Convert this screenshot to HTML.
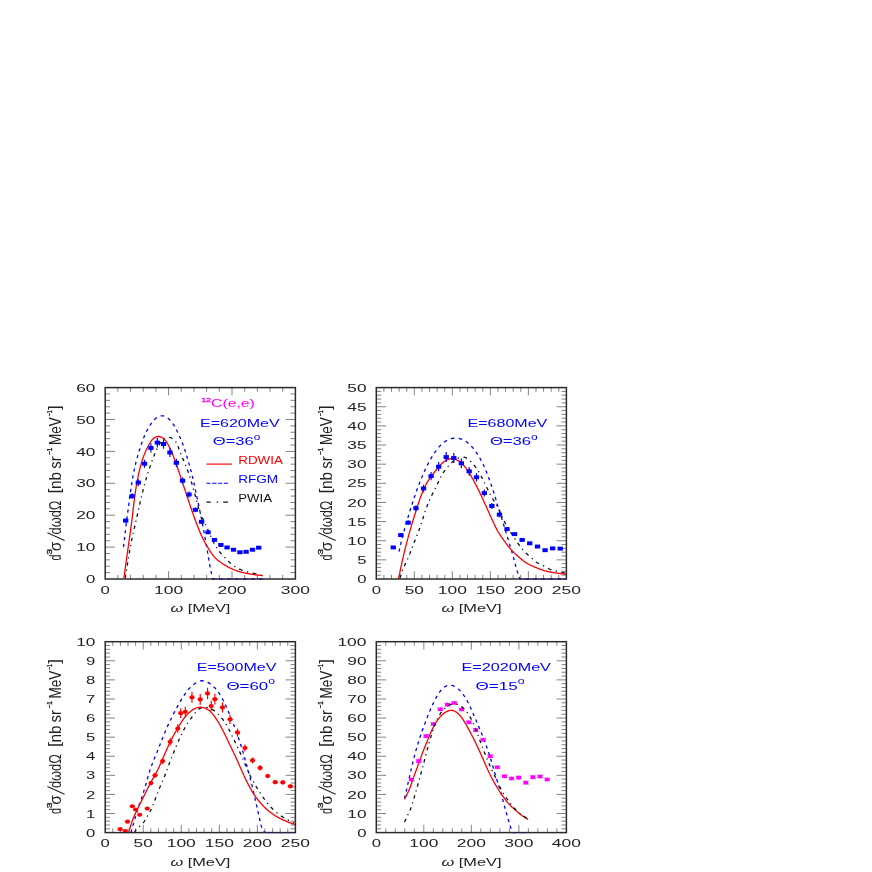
<!DOCTYPE html>
<html lang="en"><head><meta charset="utf-8"><title>12C(e,e) cross sections</title>
<style>html,body{margin:0;padding:0;background:#fff;}body{width:872px;height:872px;overflow:hidden;font-family:"Liberation Sans",sans-serif;}svg{display:block;will-change:transform;}</style>
</head><body>
<svg width="872" height="872" viewBox="0 0 872 872" font-family="'Liberation Sans', sans-serif">
<rect width="872" height="872" fill="#ffffff"/>
<g id="panel1">
<path d="M117.88 579.00 v-4.20 M117.88 387.60 v4.20 M130.56 579.00 v-4.20 M130.56 387.60 v4.20 M143.24 579.00 v-4.20 M143.24 387.60 v4.20 M155.92 579.00 v-4.20 M155.92 387.60 v4.20 M168.60 579.00 v-7.80 M168.60 387.60 v7.80 M181.28 579.00 v-4.20 M181.28 387.60 v4.20 M193.96 579.00 v-4.20 M193.96 387.60 v4.20 M206.64 579.00 v-4.20 M206.64 387.60 v4.20 M219.32 579.00 v-4.20 M219.32 387.60 v4.20 M232.00 579.00 v-7.80 M232.00 387.60 v7.80 M244.68 579.00 v-4.20 M244.68 387.60 v4.20 M257.36 579.00 v-4.20 M257.36 387.60 v4.20 M270.04 579.00 v-4.20 M270.04 387.60 v4.20 M282.72 579.00 v-4.20 M282.72 387.60 v4.20 M105.20 572.62 h4.90 M295.40 572.62 h-4.90 M105.20 566.24 h4.90 M295.40 566.24 h-4.90 M105.20 559.86 h4.90 M295.40 559.86 h-4.90 M105.20 553.48 h4.90 M295.40 553.48 h-4.90 M105.20 547.10 h9.80 M295.40 547.10 h-9.80 M105.20 540.72 h4.90 M295.40 540.72 h-4.90 M105.20 534.34 h4.90 M295.40 534.34 h-4.90 M105.20 527.96 h4.90 M295.40 527.96 h-4.90 M105.20 521.58 h4.90 M295.40 521.58 h-4.90 M105.20 515.20 h9.80 M295.40 515.20 h-9.80 M105.20 508.82 h4.90 M295.40 508.82 h-4.90 M105.20 502.44 h4.90 M295.40 502.44 h-4.90 M105.20 496.06 h4.90 M295.40 496.06 h-4.90 M105.20 489.68 h4.90 M295.40 489.68 h-4.90 M105.20 483.30 h9.80 M295.40 483.30 h-9.80 M105.20 476.92 h4.90 M295.40 476.92 h-4.90 M105.20 470.54 h4.90 M295.40 470.54 h-4.90 M105.20 464.16 h4.90 M295.40 464.16 h-4.90 M105.20 457.78 h4.90 M295.40 457.78 h-4.90 M105.20 451.40 h9.80 M295.40 451.40 h-9.80 M105.20 445.02 h4.90 M295.40 445.02 h-4.90 M105.20 438.64 h4.90 M295.40 438.64 h-4.90 M105.20 432.26 h4.90 M295.40 432.26 h-4.90 M105.20 425.88 h4.90 M295.40 425.88 h-4.90 M105.20 419.50 h9.80 M295.40 419.50 h-9.80 M105.20 413.12 h4.90 M295.40 413.12 h-4.90 M105.20 406.74 h4.90 M295.40 406.74 h-4.90 M105.20 400.36 h4.90 M295.40 400.36 h-4.90 M105.20 393.98 h4.90 M295.40 393.98 h-4.90" stroke="#5a5a5a" stroke-width="0.75" fill="none"/>
<clipPath id="c1"><rect x="105.20" y="386.60" width="191.00" height="193.40"/></clipPath>
<g clip-path="url(#c1)" fill="none" stroke-linecap="butt" stroke-linejoin="round">
<path d="M125.23 577.95 L125.36 577.14 L125.49 576.33 L125.62 575.52 L125.75 574.71 L125.77 574.59 M126.38 570.72 L126.40 570.65 L126.53 569.84 L126.57 569.53 M127.19 565.67 L127.31 564.97 L127.44 564.16 L127.57 563.34 L127.70 562.53 L127.73 562.30 M128.35 558.44 L128.48 557.66 L128.55 557.25 M129.18 553.39 L129.28 552.80 L129.42 551.99 L129.56 551.18 L129.70 550.37 L129.76 550.03 M130.46 546.18 L130.58 545.51 L130.68 544.99 M131.45 541.15 L131.55 540.68 L131.72 539.87 L131.89 539.07 L132.06 538.27 L132.16 537.81 M133.01 533.98 L133.13 533.45 L133.28 532.80 M134.16 528.98 L134.23 528.64 L134.42 527.84 L134.60 527.04 L134.79 526.24 L134.93 525.64 M135.80 521.82 L135.88 521.43 L136.06 520.64 M136.91 516.81 L136.95 516.62 L137.13 515.81 L137.31 515.01 L137.48 514.21 L137.65 513.47 M138.49 509.64 L138.54 509.39 L138.72 508.59 L138.75 508.46 M139.60 504.63 L139.61 504.58 L139.79 503.78 L139.98 502.97 L140.16 502.17 L140.34 501.37 L140.36 501.30 M141.25 497.48 L141.28 497.37 L141.47 496.57 L141.53 496.30 M142.47 492.49 L142.64 491.78 L142.85 490.98 L143.05 490.18 L143.25 489.39 L143.31 489.17 M144.32 485.37 L144.53 484.62 L144.65 484.20 M145.73 480.42 L145.88 479.89 L146.11 479.10 L146.35 478.31 L146.59 477.53 L146.71 477.13 M147.88 473.36 L148.05 472.82 L148.25 472.20 M149.48 468.45 L149.59 468.13 L149.85 467.35 L150.12 466.57 L150.38 465.79 L150.59 465.19 M151.90 461.46 L152.02 461.12 L152.30 460.34 L152.31 460.32 M153.69 456.61 L153.74 456.49 L154.03 455.72 L154.33 454.96 L154.64 454.19 L154.94 453.43 L154.96 453.39 M156.51 449.73 L156.53 449.67 L156.87 448.92 L157.01 448.61 M158.85 445.06 L159.13 444.58 L159.57 443.88 L160.04 443.19 L160.54 442.51 L160.83 442.13 M163.72 439.16 L164.14 438.82 L164.78 438.40 M169.00 437.37 L169.54 437.44 L170.36 437.64 L171.16 437.92 L171.94 438.28 L172.58 438.64 M175.59 441.50 L175.62 441.54 L176.07 442.23 L176.25 442.55 M177.92 446.17 L178.15 446.79 L178.44 447.59 L178.73 448.40 L179.02 449.20 L179.09 449.41 M180.52 453.11 L180.52 453.11 L180.83 453.88 L180.98 454.24 M182.55 457.89 L182.77 458.39 L183.09 459.14 L183.42 459.88 L183.74 460.63 L183.93 461.07 M185.46 464.74 L185.62 465.14 L185.91 465.87 M187.31 469.58 L187.37 469.74 L187.65 470.52 L187.92 471.29 L188.20 472.07 L188.46 472.83 M189.71 476.57 L189.78 476.76 L190.03 477.55 L190.09 477.73 M191.27 481.49 L191.50 482.26 L191.74 483.05 L191.97 483.84 L192.21 484.63 L192.25 484.78 M193.34 488.56 L193.34 488.57 L193.56 489.37 L193.66 489.73 M194.69 493.53 L194.85 494.12 L195.06 494.92 L195.27 495.72 L195.48 496.51 L195.56 496.84 M196.54 500.65 L196.71 501.30 L196.85 501.82 M197.89 505.61 L198.02 506.05 L198.26 506.84 L198.50 507.63 L198.74 508.41 L198.90 508.89 M200.21 512.62 L200.38 513.06 L200.65 513.76 M202.19 517.42 L202.27 517.60 L202.61 518.36 L202.95 519.11 L203.29 519.85 L203.62 520.59 M205.31 524.20 L205.37 524.33 L205.72 525.08 L205.83 525.31 M207.50 528.93 L207.78 529.56 L208.12 530.30 L208.46 531.05 L208.80 531.80 L208.93 532.10 M210.57 535.73 L210.82 536.29 L211.07 536.84 M212.75 540.46 L212.90 540.78 L213.26 541.53 L213.62 542.27 L213.99 543.01 L214.29 543.59 M216.24 547.10 L216.38 547.32 L216.82 548.02 L216.90 548.15 M219.28 551.45 L219.71 551.99 L220.24 552.62 L220.77 553.24 L221.32 553.86 L221.61 554.18 M224.46 557.20 L224.71 557.46 L225.29 558.05 L225.35 558.11 M228.28 561.06 L228.78 561.56 L229.38 562.13 L229.97 562.70 L230.58 563.25 L230.93 563.56 M234.27 566.17 L234.45 566.29 L235.14 566.74 L235.37 566.88 M239.18 568.94 L239.49 569.08 L240.25 569.42 L241.01 569.74 L241.77 570.04 L242.55 570.33 L242.72 570.39 M246.93 571.72 L247.25 571.81 L248.05 572.02 L248.25 572.07 M252.57 573.12 L252.84 573.19 L253.64 573.38 L254.44 573.57 L255.24 573.76 L256.03 573.96 L256.34 574.03 M260.62 575.18 L260.80 575.22 L261.59 575.44 L261.94 575.54" stroke="#111111" stroke-width="1.3" fill="none" clip-path="url(#c1)"/>
<path d="M123.51 546.99 L123.60 546.20 L123.70 545.42 L123.79 544.63 L123.88 543.85 L123.89 543.81 M124.33 540.13 L124.35 539.92 L124.45 539.13 L124.54 538.35 L124.64 537.56 L124.71 536.94 M125.15 533.27 L125.20 532.84 L125.30 532.06 L125.39 531.27 L125.49 530.49 L125.54 530.08 M125.99 526.40 L126.06 525.77 L126.16 524.99 L126.26 524.20 L126.35 523.42 L126.38 523.22 M126.83 519.54 L126.84 519.49 L126.94 518.70 L127.04 517.92 L127.14 517.13 L127.24 516.36 M127.71 512.68 L127.74 512.42 L127.84 511.64 L127.94 510.85 L128.05 510.07 L128.12 509.50 M128.61 505.83 L128.67 505.36 L128.77 504.57 L128.88 503.79 L128.99 503.01 L129.03 502.65 M129.54 498.98 L129.63 498.30 L129.74 497.52 L129.85 496.73 L129.96 495.95 L129.98 495.80 M130.50 492.13 L130.51 492.03 L130.62 491.25 L130.74 490.46 L130.85 489.68 L130.95 488.95 M131.50 485.28 L131.54 484.98 L131.66 484.20 L131.78 483.41 L131.90 482.63 L131.99 482.11 M132.59 478.45 L132.68 477.95 L132.81 477.17 L132.95 476.39 L133.09 475.61 L133.15 475.29 M133.86 471.64 L134.00 470.95 L134.16 470.17 L134.32 469.40 L134.49 468.62 L134.52 468.49 M135.35 464.86 L135.38 464.76 L135.56 463.99 L135.75 463.23 L135.94 462.46 L136.13 461.73 M137.08 458.13 L137.15 457.86 L137.36 457.10 L137.58 456.34 L137.79 455.58 L137.95 455.02 M139.02 451.44 L139.14 451.03 L139.38 450.27 L139.62 449.51 L139.86 448.76 L139.99 448.35 M141.17 444.79 L141.35 444.25 L141.61 443.50 L141.87 442.75 L142.14 442.00 L142.23 441.73 M143.55 438.21 L143.81 437.55 L144.10 436.82 L144.41 436.09 L144.71 435.36 L144.78 435.20 M146.37 431.76 L146.72 431.06 L147.09 430.35 L147.46 429.66 L147.84 428.96 L147.90 428.85 M149.85 425.57 L149.86 425.56 L150.29 424.89 L150.73 424.23 L151.17 423.57 L151.63 422.92 L151.71 422.81 M154.20 419.81 L154.71 419.30 L155.30 418.76 L155.91 418.25 L156.56 417.76 L156.83 417.58 M160.59 415.92 L160.94 415.85 L161.72 415.79 L162.50 415.83 L163.29 415.95 L164.06 416.16 L164.20 416.20 M167.80 418.13 L168.29 418.50 L168.89 419.02 L169.48 419.56 L170.04 420.12 L170.33 420.45 M172.73 423.50 L172.98 423.86 L173.42 424.52 L173.84 425.19 L174.26 425.87 L174.51 426.30 M176.35 429.64 L176.55 430.03 L176.90 430.74 L177.25 431.45 L177.60 432.17 L177.80 432.58 M179.39 436.01 L179.60 436.48 L179.92 437.21 L180.24 437.93 L180.56 438.66 L180.70 439.00 M182.15 442.48 L182.37 443.05 L182.66 443.78 L182.95 444.52 L183.23 445.26 L183.32 445.51 M184.58 449.05 L184.81 449.73 L185.06 450.48 L185.30 451.24 L185.54 451.99 L185.59 452.12 M186.68 455.70 L186.70 455.78 L186.93 456.54 L187.15 457.30 L187.37 458.06 L187.59 458.80 M188.61 462.39 L188.67 462.63 L188.89 463.39 L189.10 464.15 L189.32 464.91 L189.48 465.50 M190.48 469.10 L190.59 469.49 L190.80 470.26 L191.00 471.02 L191.21 471.78 L191.32 472.21 M192.26 475.82 L192.40 476.38 L192.59 477.15 L192.78 477.92 L192.97 478.69 L193.03 478.95 M193.87 482.58 L194.03 483.31 L194.20 484.09 L194.37 484.86 L194.53 485.63 L194.55 485.72 M195.31 489.36 L195.34 489.51 L195.51 490.28 L195.67 491.06 L195.82 491.83 L195.96 492.51 M196.72 496.15 L196.79 496.48 L196.95 497.26 L197.12 498.03 L197.28 498.81 L197.38 499.30 M198.16 502.94 L198.27 503.45 L198.44 504.23 L198.60 505.00 L198.77 505.78 L198.83 506.09 M199.60 509.72 L199.75 510.42 L199.91 511.20 L200.07 511.97 L200.23 512.75 L200.26 512.87 M201.00 516.52 L201.02 516.62 L201.17 517.40 L201.33 518.18 L201.48 518.95 L201.62 519.67 M202.33 523.32 L202.38 523.62 L202.53 524.39 L202.68 525.17 L202.82 525.95 L202.92 526.48 M203.60 530.13 L203.69 530.62 L203.84 531.40 L203.98 532.18 L204.12 532.96 L204.18 533.29 M204.85 536.94 L204.97 537.63 L205.11 538.41 L205.25 539.19 L205.39 539.96 L205.42 540.11 M206.07 543.76 L206.09 543.86 L206.23 544.64 L206.37 545.42 L206.50 546.20 L206.63 546.92 M207.27 550.58 L207.32 550.88 L207.45 551.66 L207.59 552.44 L207.72 553.22 L207.81 553.75 M208.43 557.41 L208.51 557.90 L208.65 558.68 L208.78 559.46 L208.91 560.24 L208.97 560.57 M209.61 564.23 L209.73 564.92 L209.87 565.70 L210.02 566.48 L210.16 567.25 L210.19 567.39 M210.92 571.04 L210.94 571.14 L211.10 571.91 L211.26 572.69 L211.43 573.46 L211.58 574.18 M212.38 577.82 L212.44 578.10 L212.61 578.87 L212.61 579.00 L214.91 579.00 M219.17 579.00 L222.85 579.00 M227.10 579.00 L230.78 579.00 M235.04 579.00 L238.72 579.00 M242.97 579.00 L246.65 579.00 M250.91 579.00 L254.59 579.00 M258.84 579.00 L262.52 579.00" stroke="#0000ff" stroke-width="1.3"/>
<path d="M123.85 578.87 L123.96 578.03 L124.07 577.19 L124.18 576.35 L124.28 575.51 L124.39 574.67 L124.50 573.83 L124.61 572.99 L124.72 572.15 L124.83 571.31 L124.94 570.47 L125.05 569.62 L125.17 568.78 L125.28 567.94 L125.39 567.10 L125.51 566.27 L125.63 565.43 L125.74 564.59 L125.86 563.75 L125.98 562.91 L126.10 562.07 L126.21 561.23 L126.33 560.39 L126.45 559.55 L126.57 558.71 L126.69 557.87 L126.81 557.03 L126.93 556.19 L127.05 555.35 L127.17 554.51 L127.29 553.67 L127.41 552.84 L127.52 552.00 L127.64 551.16 L127.76 550.32 L127.88 549.48 L128.00 548.64 L128.12 547.80 L128.24 546.96 L128.35 546.12 L128.47 545.28 L128.59 544.44 L128.71 543.60 L128.83 542.76 L128.94 541.92 L129.06 541.08 L129.18 540.24 L129.30 539.41 L129.41 538.57 L129.53 537.73 L129.65 536.89 L129.76 536.05 L129.88 535.21 L130.00 534.37 L130.11 533.53 L130.23 532.69 L130.34 531.85 L130.46 531.01 L130.57 530.17 L130.69 529.33 L130.80 528.49 L130.91 527.65 L131.02 526.81 L131.14 525.97 L131.25 525.13 L131.36 524.29 L131.47 523.45 L131.57 522.61 L131.68 521.77 L131.79 520.92 L131.89 520.08 L132.00 519.24 L132.10 518.40 L132.20 517.56 L132.30 516.72 L132.40 515.87 L132.50 515.03 L132.60 514.19 L132.70 513.35 L132.80 512.51 L132.90 511.66 L133.00 510.82 L133.09 509.98 L133.19 509.14 L133.29 508.29 L133.39 507.45 L133.49 506.61 L133.59 505.77 L133.69 504.93 L133.79 504.08 L133.89 503.24 L133.99 502.40 L134.09 501.56 L134.20 500.72 L134.30 499.88 L134.41 499.04 L134.52 498.20 L134.63 497.36 L134.74 496.52 L134.85 495.68 L134.97 494.84 L135.08 494.00 L135.20 493.16 L135.32 492.32 L135.45 491.48 L135.57 490.64 L135.70 489.81 L135.83 488.97 L135.97 488.13 L136.11 487.30 L136.24 486.46 L136.39 485.63 L136.53 484.79 L136.68 483.96 L136.83 483.12 L136.98 482.29 L137.14 481.45 L137.29 480.62 L137.45 479.79 L137.62 478.96 L137.78 478.13 L137.95 477.29 L138.12 476.46 L138.30 475.63 L138.47 474.80 L138.65 473.97 L138.84 473.14 L139.02 472.32 L139.21 471.49 L139.40 470.66 L139.59 469.83 L139.79 469.01 L140.00 468.18 L140.20 467.36 L140.41 466.54 L140.63 465.72 L140.85 464.90 L141.08 464.08 L141.31 463.26 L141.55 462.45 L141.80 461.64 L142.05 460.83 L142.31 460.02 L142.57 459.22 L142.85 458.42 L143.13 457.62 L143.42 456.82 L143.72 456.03 L144.02 455.24 L144.34 454.45 L144.66 453.67 L144.99 452.89 L145.33 452.11 L145.67 451.33 L146.02 450.56 L146.37 449.79 L146.73 449.02 L147.10 448.25 L147.47 447.49 L147.84 446.73 L148.22 445.97 L148.60 445.21 L148.99 444.46 L149.39 443.71 L149.81 442.98 L150.26 442.26 L150.73 441.56 L151.24 440.87 L151.78 440.21 L152.37 439.57 L153.00 438.96 L153.68 438.39 L154.40 437.86 L155.16 437.40 L155.94 437.01 L156.74 436.72 L157.56 436.52 L158.39 436.44 L159.21 436.49 L160.03 436.66 L160.84 436.93 L161.63 437.30 L162.39 437.75 L163.12 438.26 L163.81 438.82 L164.46 439.42 L165.06 440.05 L165.61 440.71 L166.13 441.39 L166.61 442.09 L167.06 442.80 L167.49 443.53 L167.89 444.28 L168.28 445.03 L168.66 445.78 L169.04 446.55 L169.41 447.31 L169.77 448.07 L170.13 448.84 L170.49 449.61 L170.84 450.38 L171.19 451.16 L171.53 451.93 L171.86 452.71 L172.20 453.49 L172.53 454.27 L172.85 455.06 L173.17 455.84 L173.49 456.63 L173.80 457.42 L174.11 458.21 L174.41 459.00 L174.71 459.79 L175.01 460.58 L175.30 461.38 L175.59 462.18 L175.88 462.97 L176.17 463.77 L176.45 464.57 L176.73 465.37 L177.01 466.17 L177.28 466.97 L177.56 467.77 L177.83 468.58 L178.11 469.38 L178.38 470.18 L178.65 470.99 L178.92 471.79 L179.19 472.59 L179.46 473.40 L179.73 474.20 L179.99 475.01 L180.26 475.81 L180.53 476.61 L180.79 477.42 L181.06 478.22 L181.33 479.03 L181.59 479.83 L181.86 480.64 L182.13 481.44 L182.39 482.25 L182.66 483.05 L182.93 483.85 L183.20 484.66 L183.47 485.46 L183.73 486.27 L184.00 487.07 L184.27 487.87 L184.54 488.68 L184.81 489.48 L185.08 490.29 L185.35 491.09 L185.62 491.89 L185.88 492.70 L186.15 493.50 L186.42 494.31 L186.69 495.11 L186.95 495.92 L187.22 496.72 L187.48 497.53 L187.75 498.33 L188.01 499.14 L188.28 499.94 L188.54 500.75 L188.81 501.55 L189.07 502.36 L189.34 503.16 L189.61 503.97 L189.87 504.77 L190.14 505.58 L190.41 506.38 L190.68 507.18 L190.95 507.99 L191.23 508.79 L191.50 509.59 L191.78 510.39 L192.06 511.19 L192.34 511.99 L192.62 512.79 L192.90 513.59 L193.19 514.39 L193.48 515.18 L193.77 515.98 L194.06 516.78 L194.35 517.57 L194.64 518.37 L194.93 519.16 L195.23 519.96 L195.52 520.75 L195.82 521.55 L196.12 522.34 L196.42 523.14 L196.71 523.93 L197.01 524.72 L197.32 525.52 L197.62 526.31 L197.92 527.10 L198.23 527.89 L198.54 528.68 L198.85 529.47 L199.17 530.25 L199.49 531.04 L199.82 531.82 L200.15 532.60 L200.48 533.38 L200.82 534.16 L201.17 534.93 L201.52 535.70 L201.87 536.47 L202.24 537.24 L202.61 538.00 L202.98 538.76 L203.36 539.52 L203.75 540.28 L204.14 541.03 L204.54 541.78 L204.94 542.52 L205.35 543.27 L205.76 544.01 L206.18 544.74 L206.60 545.47 L207.03 546.20 L207.47 546.93 L207.91 547.65 L208.35 548.38 L208.80 549.10 L209.25 549.81 L209.71 550.53 L210.17 551.24 L210.64 551.96 L211.11 552.66 L211.59 553.37 L212.08 554.06 L212.58 554.75 L213.09 555.42 L213.62 556.09 L214.16 556.73 L214.73 557.36 L215.31 557.98 L215.91 558.57 L216.53 559.15 L217.17 559.71 L217.81 560.26 L218.48 560.80 L219.15 561.32 L219.83 561.83 L220.52 562.33 L221.22 562.81 L221.92 563.29 L222.63 563.76 L223.35 564.22 L224.06 564.68 L224.79 565.12 L225.51 565.55 L226.25 565.98 L226.99 566.39 L227.73 566.80 L228.48 567.19 L229.23 567.58 L229.99 567.96 L230.76 568.33 L231.53 568.68 L232.30 569.03 L233.08 569.37 L233.87 569.69 L234.65 570.01 L235.45 570.31 L236.24 570.60 L237.04 570.88 L237.85 571.15 L238.66 571.41 L239.47 571.65 L240.28 571.89 L241.10 572.11 L241.92 572.33 L242.75 572.53 L243.57 572.73 L244.40 572.91 L245.23 573.09 L246.06 573.26 L246.89 573.43 L247.73 573.59 L248.56 573.74 L249.40 573.88 L250.24 574.02 L251.07 574.15 L251.91 574.28 L252.75 574.40 L253.59 574.52 L254.43 574.64 L255.27 574.75 L256.11 574.86 L256.95 574.97 L257.79 575.07 L258.63 575.17 L259.48 575.27 L260.32 575.37 L261.16 575.47 L262.00 575.56 L262.84 575.66" stroke="#ff0000" stroke-width="1.3"/>
</g>
<path d="M125.69 518.57 v4.09" stroke="#0000ff" stroke-width="1.2" fill="none"/>
<rect x="123.04" y="518.66" width="5.3" height="3.9" fill="#0000ff"/>
<path d="M132.11 493.17 v5.80" stroke="#0000ff" stroke-width="1.2" fill="none"/>
<rect x="129.46" y="494.12" width="5.3" height="3.9" fill="#0000ff"/>
<path d="M138.30 479.17 v6.75" stroke="#0000ff" stroke-width="1.2" fill="none"/>
<rect x="135.65" y="480.59" width="5.3" height="3.9" fill="#0000ff"/>
<path d="M144.50 459.70 v8.07" stroke="#0000ff" stroke-width="1.2" fill="none"/>
<rect x="141.85" y="461.78" width="5.3" height="3.9" fill="#0000ff"/>
<path d="M150.92 443.32 v9.18" stroke="#0000ff" stroke-width="1.2" fill="none"/>
<rect x="148.27" y="445.96" width="5.3" height="3.9" fill="#0000ff"/>
<path d="M157.34 437.86 v9.55" stroke="#0000ff" stroke-width="1.2" fill="none"/>
<rect x="154.69" y="440.68" width="5.3" height="3.9" fill="#0000ff"/>
<path d="M163.53 439.28 v9.45" stroke="#0000ff" stroke-width="1.2" fill="none"/>
<rect x="160.88" y="442.06" width="5.3" height="3.9" fill="#0000ff"/>
<path d="M169.95 448.07 v8.86" stroke="#0000ff" stroke-width="1.2" fill="none"/>
<rect x="167.30" y="450.55" width="5.3" height="3.9" fill="#0000ff"/>
<path d="M176.38 458.75 v8.13" stroke="#0000ff" stroke-width="1.2" fill="none"/>
<rect x="173.73" y="460.87" width="5.3" height="3.9" fill="#0000ff"/>
<path d="M182.57 477.27 v6.88" stroke="#0000ff" stroke-width="1.2" fill="none"/>
<rect x="179.92" y="478.76" width="5.3" height="3.9" fill="#0000ff"/>
<path d="M188.99 491.51 v5.92" stroke="#0000ff" stroke-width="1.2" fill="none"/>
<rect x="186.34" y="492.52" width="5.3" height="3.9" fill="#0000ff"/>
<path d="M195.41 507.41 v4.84" stroke="#0000ff" stroke-width="1.2" fill="none"/>
<rect x="192.76" y="507.88" width="5.3" height="3.9" fill="#0000ff"/>
<path d="M201.61 519.76 v4.01" stroke="#0000ff" stroke-width="1.2" fill="none"/>
<rect x="198.96" y="519.81" width="5.3" height="3.9" fill="#0000ff"/>
<path d="M208.03 530.68 v3.27" stroke="#0000ff" stroke-width="1.2" fill="none"/>
<rect x="205.38" y="530.36" width="5.3" height="3.9" fill="#0000ff"/>
<path d="M214.45 538.51 v2.74" stroke="#0000ff" stroke-width="1.2" fill="none"/>
<rect x="211.80" y="537.93" width="5.3" height="3.9" fill="#0000ff"/>
<path d="M220.87 543.73 v2.39" stroke="#0000ff" stroke-width="1.2" fill="none"/>
<rect x="218.22" y="542.98" width="5.3" height="3.9" fill="#0000ff"/>
<path d="M227.06 546.35 v2.21" stroke="#0000ff" stroke-width="1.2" fill="none"/>
<rect x="224.41" y="545.50" width="5.3" height="3.9" fill="#0000ff"/>
<path d="M233.49 548.72 v2.05" stroke="#0000ff" stroke-width="1.2" fill="none"/>
<rect x="230.84" y="547.79" width="5.3" height="3.9" fill="#0000ff"/>
<path d="M239.91 551.33 v1.87" stroke="#0000ff" stroke-width="1.2" fill="none"/>
<rect x="237.26" y="550.32" width="5.3" height="3.9" fill="#0000ff"/>
<path d="M246.10 550.86 v1.90" stroke="#0000ff" stroke-width="1.2" fill="none"/>
<rect x="243.45" y="549.86" width="5.3" height="3.9" fill="#0000ff"/>
<path d="M252.52 548.72 v2.05" stroke="#0000ff" stroke-width="1.2" fill="none"/>
<rect x="249.87" y="547.79" width="5.3" height="3.9" fill="#0000ff"/>
<path d="M258.72 546.58 v2.19" stroke="#0000ff" stroke-width="1.2" fill="none"/>
<rect x="256.07" y="545.73" width="5.3" height="3.9" fill="#0000ff"/>
<rect x="105.20" y="387.60" width="190.20" height="191.40" fill="none" stroke="#2b2b2b" stroke-width="1.5"/>
<path d="M214.61 579.00 L218.29 579.00 M222.55 579.00 L226.23 579.00 M230.48 579.00 L234.16 579.00 M238.42 579.00 L242.10 579.00 M246.35 579.00 L250.03 579.00 M254.29 579.00 L257.97 579.00 M262.22 579.00 L262.84 579.00" stroke="#0000ff" stroke-width="1.3" fill="none" opacity="0.28"/>
<text x="100.55" y="593.60" font-size="11.20" fill="#222222" text-anchor="start" textLength="9.30" lengthAdjust="spacingAndGlyphs">0</text>
<text x="154.05" y="593.60" font-size="11.20" fill="#222222" text-anchor="start" textLength="29.10" lengthAdjust="spacingAndGlyphs">100</text>
<text x="217.45" y="593.60" font-size="11.20" fill="#222222" text-anchor="start" textLength="29.10" lengthAdjust="spacingAndGlyphs">200</text>
<text x="280.85" y="593.60" font-size="11.20" fill="#222222" text-anchor="start" textLength="29.10" lengthAdjust="spacingAndGlyphs">300</text>
<text x="86.10" y="583.10" font-size="11.20" fill="#222222" text-anchor="start" textLength="9.30" lengthAdjust="spacingAndGlyphs">0</text>
<text x="76.20" y="551.20" font-size="11.20" fill="#222222" text-anchor="start" textLength="19.20" lengthAdjust="spacingAndGlyphs">10</text>
<text x="76.20" y="519.30" font-size="11.20" fill="#222222" text-anchor="start" textLength="19.20" lengthAdjust="spacingAndGlyphs">20</text>
<text x="76.20" y="487.40" font-size="11.20" fill="#222222" text-anchor="start" textLength="19.20" lengthAdjust="spacingAndGlyphs">30</text>
<text x="76.20" y="455.50" font-size="11.20" fill="#222222" text-anchor="start" textLength="19.20" lengthAdjust="spacingAndGlyphs">40</text>
<text x="76.20" y="423.60" font-size="11.20" fill="#222222" text-anchor="start" textLength="19.20" lengthAdjust="spacingAndGlyphs">50</text>
<text x="76.20" y="391.70" font-size="11.20" fill="#222222" text-anchor="start" textLength="19.20" lengthAdjust="spacingAndGlyphs">60</text>
<text x="170.40" y="612.30" font-size="11.20" fill="#222222" text-anchor="start" textLength="60.00" lengthAdjust="spacingAndGlyphs"><tspan font-style="italic">&#969;</tspan> [MeV]</text>
<g transform="translate(61.30 560.50) rotate(-90) scale(1 1.520)" fill="#222222">
<text x="0.00" y="0.00" font-size="10.90" textLength="6.00" lengthAdjust="spacingAndGlyphs">d</text>
<text x="9.30" y="0.00" font-size="10.90" textLength="9.60" lengthAdjust="spacingAndGlyphs">&#963;</text>
<text x="26.00" y="0.00" font-size="10.90" textLength="33.90" lengthAdjust="spacingAndGlyphs">d&#969;d&#937;</text>
<text x="67.10" y="-0.80" font-size="10.90" textLength="5.00" lengthAdjust="spacingAndGlyphs">[</text>
<text x="71.60" y="0.00" font-size="10.90" textLength="17.00" lengthAdjust="spacingAndGlyphs">nb</text>
<text x="91.70" y="0.00" font-size="10.90" textLength="12.40" lengthAdjust="spacingAndGlyphs">sr</text>
<text x="115.50" y="0.00" font-size="10.90" textLength="27.80" lengthAdjust="spacingAndGlyphs">MeV</text>
<text x="150.40" y="-0.80" font-size="10.90" textLength="4.80" lengthAdjust="spacingAndGlyphs">]</text>
</g>
<g transform="translate(52.00 560.50) rotate(-90)" fill="#222222">
<path d="M19.9 12.6 L27.7 -4.6" stroke="#222222" stroke-width="1.05" fill="none"/>
<text x="5.80" y="0" font-size="7.2" textLength="5.80" lengthAdjust="spacingAndGlyphs" stroke="#222222" stroke-width="0.35">3</text>
<text x="105.60" y="0" font-size="7.2" textLength="7.30" lengthAdjust="spacingAndGlyphs" stroke="#222222" stroke-width="0.35">&#8722;1</text>
<text x="144.20" y="0" font-size="7.2" textLength="5.80" lengthAdjust="spacingAndGlyphs" stroke="#222222" stroke-width="0.35">&#8722;1</text>
</g>
</g>
<g id="panel2">
<path d="M383.90 579.00 v-4.20 M383.90 387.60 v4.20 M391.51 579.00 v-4.20 M391.51 387.60 v4.20 M399.11 579.00 v-4.20 M399.11 387.60 v4.20 M406.72 579.00 v-4.20 M406.72 387.60 v4.20 M414.32 579.00 v-7.80 M414.32 387.60 v7.80 M421.92 579.00 v-4.20 M421.92 387.60 v4.20 M429.53 579.00 v-4.20 M429.53 387.60 v4.20 M437.13 579.00 v-4.20 M437.13 387.60 v4.20 M444.74 579.00 v-4.20 M444.74 387.60 v4.20 M452.34 579.00 v-7.80 M452.34 387.60 v7.80 M459.94 579.00 v-4.20 M459.94 387.60 v4.20 M467.55 579.00 v-4.20 M467.55 387.60 v4.20 M475.15 579.00 v-4.20 M475.15 387.60 v4.20 M482.76 579.00 v-4.20 M482.76 387.60 v4.20 M490.36 579.00 v-7.80 M490.36 387.60 v7.80 M497.96 579.00 v-4.20 M497.96 387.60 v4.20 M505.57 579.00 v-4.20 M505.57 387.60 v4.20 M513.17 579.00 v-4.20 M513.17 387.60 v4.20 M520.78 579.00 v-4.20 M520.78 387.60 v4.20 M528.38 579.00 v-7.80 M528.38 387.60 v7.80 M535.98 579.00 v-4.20 M535.98 387.60 v4.20 M543.59 579.00 v-4.20 M543.59 387.60 v4.20 M551.19 579.00 v-4.20 M551.19 387.60 v4.20 M558.80 579.00 v-4.20 M558.80 387.60 v4.20 M376.30 575.17 h4.90 M566.40 575.17 h-4.90 M376.30 571.34 h4.90 M566.40 571.34 h-4.90 M376.30 567.52 h4.90 M566.40 567.52 h-4.90 M376.30 563.69 h4.90 M566.40 563.69 h-4.90 M376.30 559.86 h9.80 M566.40 559.86 h-9.80 M376.30 556.03 h4.90 M566.40 556.03 h-4.90 M376.30 552.20 h4.90 M566.40 552.20 h-4.90 M376.30 548.38 h4.90 M566.40 548.38 h-4.90 M376.30 544.55 h4.90 M566.40 544.55 h-4.90 M376.30 540.72 h9.80 M566.40 540.72 h-9.80 M376.30 536.89 h4.90 M566.40 536.89 h-4.90 M376.30 533.06 h4.90 M566.40 533.06 h-4.90 M376.30 529.24 h4.90 M566.40 529.24 h-4.90 M376.30 525.41 h4.90 M566.40 525.41 h-4.90 M376.30 521.58 h9.80 M566.40 521.58 h-9.80 M376.30 517.75 h4.90 M566.40 517.75 h-4.90 M376.30 513.92 h4.90 M566.40 513.92 h-4.90 M376.30 510.10 h4.90 M566.40 510.10 h-4.90 M376.30 506.27 h4.90 M566.40 506.27 h-4.90 M376.30 502.44 h9.80 M566.40 502.44 h-9.80 M376.30 498.61 h4.90 M566.40 498.61 h-4.90 M376.30 494.78 h4.90 M566.40 494.78 h-4.90 M376.30 490.96 h4.90 M566.40 490.96 h-4.90 M376.30 487.13 h4.90 M566.40 487.13 h-4.90 M376.30 483.30 h9.80 M566.40 483.30 h-9.80 M376.30 479.47 h4.90 M566.40 479.47 h-4.90 M376.30 475.64 h4.90 M566.40 475.64 h-4.90 M376.30 471.82 h4.90 M566.40 471.82 h-4.90 M376.30 467.99 h4.90 M566.40 467.99 h-4.90 M376.30 464.16 h9.80 M566.40 464.16 h-9.80 M376.30 460.33 h4.90 M566.40 460.33 h-4.90 M376.30 456.50 h4.90 M566.40 456.50 h-4.90 M376.30 452.68 h4.90 M566.40 452.68 h-4.90 M376.30 448.85 h4.90 M566.40 448.85 h-4.90 M376.30 445.02 h9.80 M566.40 445.02 h-9.80 M376.30 441.19 h4.90 M566.40 441.19 h-4.90 M376.30 437.36 h4.90 M566.40 437.36 h-4.90 M376.30 433.54 h4.90 M566.40 433.54 h-4.90 M376.30 429.71 h4.90 M566.40 429.71 h-4.90 M376.30 425.88 h9.80 M566.40 425.88 h-9.80 M376.30 422.05 h4.90 M566.40 422.05 h-4.90 M376.30 418.22 h4.90 M566.40 418.22 h-4.90 M376.30 414.40 h4.90 M566.40 414.40 h-4.90 M376.30 410.57 h4.90 M566.40 410.57 h-4.90 M376.30 406.74 h9.80 M566.40 406.74 h-9.80 M376.30 402.91 h4.90 M566.40 402.91 h-4.90 M376.30 399.08 h4.90 M566.40 399.08 h-4.90 M376.30 395.26 h4.90 M566.40 395.26 h-4.90 M376.30 391.43 h4.90 M566.40 391.43 h-4.90" stroke="#5a5a5a" stroke-width="0.75" fill="none"/>
<clipPath id="c2"><rect x="376.30" y="386.60" width="190.90" height="193.40"/></clipPath>
<g clip-path="url(#c2)" fill="none" stroke-linecap="butt" stroke-linejoin="round">
<path d="M400.13 577.95 L400.32 577.22 L400.51 576.48 L400.70 575.75 L400.89 575.01 L401.00 574.64 M402.20 570.88 L402.27 570.69 L402.54 569.98 L402.64 569.75 M404.24 566.10 L404.37 565.83 L404.70 565.14 L405.03 564.46 L405.37 563.78 L405.70 563.10 L405.76 562.97 M407.47 559.37 L407.65 558.98 L407.95 558.28 L407.97 558.25 M409.48 554.57 L409.68 554.08 L409.95 553.37 L410.22 552.66 L410.49 551.95 L410.72 551.35 M412.12 547.65 L412.37 546.99 L412.56 546.51 M414.02 542.82 L414.04 542.76 L414.32 542.06 L414.60 541.35 L414.88 540.65 L415.17 539.95 L415.30 539.61 M416.77 535.92 L416.84 535.72 L417.12 535.02 L417.21 534.78 M418.61 531.08 L418.73 530.76 L418.99 530.05 L419.25 529.34 L419.50 528.62 L419.76 527.91 L419.78 527.84 M421.06 524.10 L421.23 523.61 L421.45 522.95 M422.65 519.19 L422.85 518.56 L423.07 517.83 L423.30 517.11 L423.53 516.39 L423.68 515.91 M424.89 512.15 L424.92 512.06 L425.16 511.34 L425.27 511.00 M426.59 507.27 L426.68 507.05 L426.94 506.34 L427.21 505.63 L427.49 504.92 L427.77 504.22 L427.84 504.05 M429.38 500.39 L429.54 500.03 L429.85 499.34 L429.88 499.27 M431.60 495.67 L431.81 495.24 L432.16 494.56 L432.50 493.89 L432.84 493.21 L433.18 492.56 M434.99 488.99 L435.25 488.48 L435.54 487.89 M437.26 484.29 L437.53 483.69 L437.85 483.01 L438.17 482.32 L438.49 481.63 L438.72 481.13 M440.48 477.55 L440.48 477.55 L440.84 476.88 L441.07 476.46 M443.14 473.00 L443.16 472.96 L443.59 472.33 L444.02 471.70 L444.45 471.08 L444.90 470.46 L445.17 470.10 M447.72 466.89 L448.21 466.32 L448.55 465.93 M451.42 462.93 L451.85 462.53 L452.41 462.03 L453.00 461.54 L453.59 461.06 L454.21 460.59 L454.23 460.58 M457.89 458.33 L458.29 458.13 L459.03 457.82 L459.12 457.79 M463.46 457.03 L464.17 457.13 L464.88 457.31 L465.57 457.57 L466.24 457.88 L466.90 458.25 L467.03 458.33 M470.30 460.98 L470.57 461.25 L471.13 461.81 L471.21 461.89 M473.97 464.96 L474.19 465.24 L474.66 465.83 L475.12 466.42 L475.57 467.02 L476.00 467.62 L476.13 467.80 M478.35 471.18 L478.48 471.38 L478.87 472.03 L478.99 472.25 M480.96 475.75 L481.10 476.01 L481.45 476.68 L481.81 477.36 L482.16 478.04 L482.50 478.71 L482.57 478.85 M484.35 482.43 L484.52 482.79 L484.85 483.48 L484.88 483.54 M486.62 487.13 L486.83 487.57 L487.15 488.25 L487.48 488.93 L487.81 489.61 L488.13 490.27 M489.93 493.84 L490.19 494.36 L490.50 494.93 M492.49 498.43 L492.81 498.97 L493.21 499.62 L493.61 500.26 L494.01 500.91 L494.33 501.43 M496.43 504.87 L496.77 505.44 L497.06 505.94 M498.93 509.49 L499.23 510.13 L499.55 510.81 L499.87 511.50 L500.18 512.19 L500.38 512.64 M501.95 516.29 L501.99 516.37 L502.29 517.07 L502.44 517.42 M504.12 521.03 L504.20 521.19 L504.54 521.87 L504.89 522.54 L505.25 523.21 L505.61 523.88 L505.75 524.12 M507.77 527.61 L507.89 527.81 L508.29 528.46 L508.41 528.67 M510.55 532.10 L510.69 532.32 L511.09 532.96 L511.50 533.61 L511.90 534.24 L512.31 534.88 L512.44 535.07 M514.64 538.47 L514.79 538.70 L515.21 539.33 L515.33 539.51 M517.59 542.88 L517.75 543.10 L518.18 543.72 L518.61 544.34 L519.05 544.96 L519.50 545.57 L519.64 545.77 M522.16 549.00 L522.30 549.16 L522.79 549.74 L522.98 549.96 M525.82 552.98 L525.90 553.05 L526.45 553.58 L527.00 554.09 L527.57 554.60 L528.13 555.09 L528.53 555.43 M531.72 558.18 L532.16 558.57 L532.68 559.03 M535.89 561.76 L536.22 562.01 L536.83 562.45 L537.46 562.87 L538.10 563.26 L538.76 563.62 L539.04 563.76 M543.00 565.58 L543.58 565.85 L544.21 566.17 M548.00 568.24 L548.27 568.39 L548.94 568.74 L549.61 569.07 L550.30 569.39 L550.99 569.68 L551.45 569.84 M555.73 570.99 L556.10 571.06 L556.84 571.21 L557.08 571.26 M561.42 572.25 L562.03 572.40 L562.77 572.60 L563.50 572.79 L564.23 572.99 L564.96 573.19 L565.15 573.25" stroke="#111111" stroke-width="1.3" fill="none" clip-path="url(#c2)"/>
<path d="M398.98 551.58 L399.15 550.86 L399.31 550.15 L399.47 549.43 L399.64 548.72 L399.70 548.44 M400.54 544.81 L400.63 544.44 L400.80 543.72 L400.97 543.01 L401.14 542.30 L401.28 541.68 M402.17 538.06 L402.18 538.03 L402.35 537.32 L402.53 536.61 L402.72 535.90 L402.90 535.19 L402.96 534.93 M403.93 531.33 L404.03 530.94 L404.23 530.23 L404.43 529.53 L404.62 528.82 L404.79 528.22 M405.83 524.63 L405.84 524.60 L406.04 523.89 L406.25 523.19 L406.46 522.49 L406.66 521.78 L406.74 521.53 M407.81 517.95 L407.92 517.57 L408.13 516.87 L408.35 516.17 L408.56 515.46 L408.74 514.86 M409.83 511.28 L409.84 511.26 L410.06 510.56 L410.27 509.86 L410.49 509.16 L410.71 508.46 L410.79 508.19 M411.92 504.62 L412.03 504.27 L412.26 503.57 L412.48 502.87 L412.71 502.18 L412.91 501.54 M414.10 497.99 L414.32 497.31 L414.56 496.61 L414.80 495.92 L415.04 495.23 L415.14 494.92 M416.39 491.38 L416.50 491.08 L416.75 490.39 L417.00 489.70 L417.25 489.01 L417.50 488.33 M418.82 484.81 L419.05 484.21 L419.32 483.53 L419.58 482.84 L419.85 482.16 L420.00 481.78 M421.41 478.29 L421.49 478.08 L421.78 477.41 L422.06 476.73 L422.35 476.06 L422.63 475.38 L422.67 475.29 M424.20 471.83 L424.41 471.36 L424.71 470.69 L425.02 470.03 L425.33 469.36 L425.57 468.86 M427.23 465.45 L427.25 465.41 L427.58 464.75 L427.92 464.10 L428.25 463.45 L428.59 462.80 L428.74 462.54 M430.57 459.20 L430.71 458.95 L431.08 458.31 L431.45 457.68 L431.82 457.05 L432.20 456.42 L432.25 456.35 M434.30 453.11 L434.57 452.71 L434.99 452.10 L435.41 451.50 L435.83 450.90 L436.22 450.38 M438.65 447.34 L439.05 446.90 L439.54 446.36 L440.05 445.82 L440.56 445.30 L441.00 444.88 M444.04 442.30 L444.49 441.98 L445.09 441.56 L445.71 441.16 L446.35 440.78 L446.99 440.42 L447.01 440.41 M450.84 438.81 L451.10 438.72 L451.82 438.53 L452.54 438.37 L453.26 438.24 L453.99 438.14 L454.42 438.10 M458.64 438.34 L459.12 438.44 L459.84 438.61 L460.55 438.82 L461.25 439.06 L461.95 439.32 L462.11 439.39 M465.74 441.31 L465.86 441.40 L466.47 441.81 L467.06 442.25 L467.64 442.70 L468.21 443.17 L468.50 443.42 M471.33 446.18 L471.38 446.24 L471.87 446.78 L472.36 447.33 L472.84 447.89 L473.30 448.45 L473.54 448.74 M475.86 451.84 L475.95 451.97 L476.37 452.57 L476.78 453.18 L477.18 453.80 L477.58 454.41 L477.71 454.61 M479.70 457.88 L479.87 458.17 L480.23 458.81 L480.59 459.45 L480.95 460.09 L481.30 460.74 L481.31 460.76 M483.04 464.14 L483.29 464.66 L483.61 465.32 L483.92 465.98 L484.22 466.65 L484.42 467.10 M485.90 470.57 L485.95 470.69 L486.23 471.37 L486.50 472.05 L486.76 472.73 L487.03 473.42 L487.10 473.60 M488.41 477.12 L488.56 477.54 L488.81 478.23 L489.06 478.92 L489.31 479.61 L489.51 480.17 M490.78 483.70 L490.80 483.75 L491.05 484.44 L491.29 485.13 L491.54 485.82 L491.79 486.51 L491.87 486.76 M493.09 490.30 L493.21 490.66 L493.44 491.36 L493.67 492.06 L493.89 492.75 L494.09 493.38 M495.17 496.96 L495.37 497.66 L495.58 498.37 L495.78 499.07 L495.99 499.78 L496.07 500.06 M497.12 503.65 L497.23 503.99 L497.44 504.70 L497.65 505.40 L497.86 506.10 L498.06 506.74 M499.17 510.32 L499.38 511.00 L499.60 511.70 L499.82 512.40 L500.04 513.10 L500.14 513.40 M501.26 516.97 L501.36 517.29 L501.58 517.99 L501.79 518.69 L502.01 519.39 L502.22 520.06 M503.33 523.63 L503.53 524.29 L503.74 524.99 L503.96 525.69 L504.17 526.39 L504.27 526.73 M505.35 530.30 L505.44 530.60 L505.65 531.30 L505.86 532.00 L506.07 532.71 L506.28 533.40 M507.36 536.98 L507.55 537.62 L507.77 538.32 L507.98 539.02 L508.19 539.72 L508.30 540.07 M509.42 543.64 L509.50 543.92 L509.72 544.62 L509.94 545.32 L510.16 546.02 L510.37 546.72 L510.38 546.73 M511.47 550.31 L511.65 550.92 L511.86 551.63 L512.06 552.33 L512.26 553.03 L512.37 553.41 M513.38 557.01 L513.45 557.27 L513.64 557.97 L513.83 558.68 L514.02 559.39 L514.21 560.10 L514.21 560.12 M515.15 563.73 L515.31 564.36 L515.50 565.07 L515.68 565.78 L515.86 566.49 L515.96 566.85 M516.95 570.45 L517.03 570.73 L517.23 571.43 L517.45 572.13 L517.67 572.83 L517.90 573.53 L517.90 573.54 M519.19 577.07 L519.42 577.65 L519.69 578.33 L519.97 579.01 L519.97 579.00 L521.27 579.00 M525.53 579.00 L529.21 579.00 M533.46 579.00 L537.14 579.00 M541.40 579.00 L545.08 579.00 M549.33 579.00 L553.01 579.00 M557.27 579.00 L560.95 579.00 M565.20 579.00 L566.41 579.00" stroke="#0000ff" stroke-width="1.3"/>
<path d="M398.52 578.87 L398.68 578.11 L398.83 577.35 L398.99 576.59 L399.15 575.83 L399.30 575.07 L399.46 574.31 L399.61 573.55 L399.77 572.80 L399.93 572.04 L400.08 571.28 L400.24 570.52 L400.40 569.76 L400.56 569.00 L400.72 568.24 L400.88 567.48 L401.04 566.72 L401.20 565.97 L401.36 565.21 L401.53 564.45 L401.69 563.69 L401.85 562.93 L402.02 562.18 L402.19 561.42 L402.35 560.66 L402.52 559.91 L402.69 559.15 L402.86 558.39 L403.04 557.64 L403.21 556.88 L403.38 556.13 L403.56 555.37 L403.74 554.62 L403.91 553.86 L404.09 553.11 L404.27 552.35 L404.46 551.60 L404.64 550.85 L404.82 550.09 L405.01 549.34 L405.20 548.59 L405.38 547.84 L405.57 547.08 L405.76 546.33 L405.95 545.58 L406.15 544.83 L406.34 544.08 L406.54 543.33 L406.73 542.58 L406.93 541.83 L407.13 541.08 L407.33 540.33 L407.53 539.58 L407.73 538.83 L407.94 538.09 L408.14 537.34 L408.35 536.59 L408.55 535.84 L408.76 535.10 L408.97 534.35 L409.18 533.60 L409.39 532.86 L409.60 532.11 L409.81 531.37 L410.03 530.62 L410.24 529.88 L410.46 529.13 L410.67 528.39 L410.89 527.64 L411.11 526.90 L411.33 526.15 L411.54 525.41 L411.76 524.67 L411.98 523.92 L412.20 523.18 L412.42 522.44 L412.65 521.69 L412.87 520.95 L413.09 520.21 L413.31 519.46 L413.54 518.72 L413.76 517.98 L413.99 517.24 L414.21 516.50 L414.44 515.76 L414.67 515.01 L414.90 514.27 L415.13 513.53 L415.36 512.79 L415.59 512.05 L415.82 511.31 L416.05 510.57 L416.29 509.83 L416.52 509.10 L416.76 508.36 L416.99 507.62 L417.23 506.88 L417.47 506.14 L417.71 505.41 L417.96 504.67 L418.20 503.94 L418.45 503.20 L418.70 502.47 L418.95 501.73 L419.20 501.00 L419.46 500.27 L419.71 499.54 L419.97 498.81 L420.24 498.08 L420.50 497.35 L420.77 496.62 L421.05 495.90 L421.32 495.17 L421.60 494.45 L421.89 493.73 L422.17 493.01 L422.47 492.29 L422.76 491.57 L423.06 490.85 L423.37 490.13 L423.68 489.42 L423.99 488.71 L424.31 488.00 L424.64 487.30 L424.97 486.60 L425.31 485.90 L425.66 485.21 L426.02 484.52 L426.38 483.83 L426.75 483.15 L427.14 482.48 L427.53 481.81 L427.93 481.14 L428.33 480.48 L428.75 479.83 L429.18 479.19 L429.62 478.55 L430.07 477.91 L430.52 477.28 L430.98 476.66 L431.44 476.04 L431.91 475.42 L432.39 474.80 L432.87 474.19 L433.35 473.59 L433.83 472.98 L434.32 472.37 L434.80 471.77 L435.29 471.17 L435.78 470.57 L436.27 469.97 L436.77 469.38 L437.26 468.78 L437.76 468.19 L438.26 467.60 L438.76 467.01 L439.27 466.42 L439.78 465.83 L440.30 465.24 L440.82 464.66 L441.35 464.08 L441.89 463.52 L442.44 462.97 L443.01 462.44 L443.59 461.93 L444.20 461.44 L444.82 460.99 L445.48 460.56 L446.15 460.17 L446.86 459.83 L447.58 459.52 L448.32 459.25 L449.08 459.04 L449.84 458.87 L450.62 458.75 L451.40 458.70 L452.18 458.69 L452.96 458.75 L453.73 458.86 L454.50 459.03 L455.25 459.24 L456.00 459.49 L456.73 459.79 L457.44 460.13 L458.13 460.51 L458.79 460.91 L459.44 461.35 L460.06 461.81 L460.66 462.30 L461.25 462.82 L461.82 463.35 L462.37 463.90 L462.91 464.46 L463.43 465.04 L463.94 465.63 L464.44 466.23 L464.93 466.83 L465.42 467.44 L465.89 468.06 L466.35 468.68 L466.80 469.31 L467.25 469.94 L467.69 470.58 L468.12 471.23 L468.54 471.88 L468.96 472.53 L469.37 473.19 L469.78 473.85 L470.18 474.51 L470.57 475.18 L470.97 475.85 L471.35 476.52 L471.74 477.19 L472.12 477.87 L472.49 478.54 L472.87 479.22 L473.24 479.91 L473.60 480.59 L473.97 481.27 L474.33 481.96 L474.69 482.65 L475.05 483.33 L475.41 484.02 L475.77 484.71 L476.13 485.40 L476.48 486.09 L476.83 486.78 L477.19 487.47 L477.54 488.16 L477.89 488.85 L478.24 489.54 L478.58 490.24 L478.93 490.93 L479.27 491.62 L479.61 492.32 L479.95 493.02 L480.29 493.72 L480.63 494.41 L480.96 495.11 L481.29 495.81 L481.62 496.52 L481.95 497.22 L482.28 497.92 L482.60 498.63 L482.93 499.33 L483.25 500.04 L483.57 500.74 L483.89 501.45 L484.21 502.16 L484.52 502.86 L484.84 503.57 L485.16 504.28 L485.48 504.99 L485.79 505.69 L486.11 506.40 L486.43 507.11 L486.74 507.81 L487.06 508.52 L487.38 509.23 L487.70 509.93 L488.02 510.64 L488.34 511.35 L488.66 512.05 L488.98 512.76 L489.30 513.46 L489.62 514.17 L489.94 514.87 L490.26 515.58 L490.58 516.28 L490.90 516.99 L491.23 517.70 L491.55 518.40 L491.87 519.11 L492.19 519.81 L492.52 520.52 L492.84 521.23 L493.16 521.93 L493.49 522.64 L493.81 523.34 L494.14 524.05 L494.47 524.75 L494.80 525.45 L495.14 526.15 L495.48 526.85 L495.82 527.54 L496.18 528.24 L496.53 528.92 L496.90 529.61 L497.27 530.29 L497.64 530.96 L498.03 531.63 L498.42 532.30 L498.83 532.96 L499.24 533.62 L499.65 534.27 L500.08 534.92 L500.51 535.56 L500.95 536.20 L501.39 536.84 L501.83 537.48 L502.28 538.11 L502.73 538.74 L503.18 539.38 L503.63 540.01 L504.08 540.64 L504.53 541.28 L504.98 541.91 L505.44 542.54 L505.89 543.17 L506.35 543.80 L506.81 544.42 L507.28 545.05 L507.74 545.66 L508.22 546.28 L508.70 546.89 L509.18 547.49 L509.67 548.09 L510.17 548.68 L510.68 549.26 L511.20 549.83 L511.72 550.40 L512.26 550.96 L512.80 551.51 L513.35 552.06 L513.90 552.60 L514.46 553.14 L515.03 553.67 L515.60 554.20 L516.17 554.72 L516.75 555.24 L517.33 555.76 L517.92 556.28 L518.50 556.79 L519.09 557.31 L519.67 557.82 L520.27 558.32 L520.86 558.82 L521.46 559.32 L522.07 559.81 L522.68 560.29 L523.29 560.76 L523.91 561.23 L524.54 561.68 L525.18 562.12 L525.82 562.55 L526.47 562.97 L527.13 563.37 L527.79 563.76 L528.47 564.14 L529.15 564.50 L529.84 564.86 L530.53 565.20 L531.23 565.53 L531.94 565.86 L532.65 566.17 L533.36 566.48 L534.08 566.79 L534.80 567.09 L535.52 567.38 L536.24 567.68 L536.96 567.97 L537.69 568.25 L538.41 568.54 L539.14 568.82 L539.87 569.09 L540.60 569.36 L541.33 569.63 L542.06 569.88 L542.79 570.13 L543.53 570.37 L544.27 570.61 L545.01 570.83 L545.75 571.05 L546.50 571.25 L547.25 571.44 L548.00 571.62 L548.75 571.79 L549.51 571.95 L550.27 572.10 L551.03 572.24 L551.79 572.37 L552.56 572.50 L553.33 572.62 L554.10 572.73 L554.86 572.83 L555.63 572.94 L556.41 573.04 L557.18 573.13 L557.95 573.23 L558.72 573.32 L559.49 573.42 L560.26 573.51 L561.03 573.61 L561.80 573.70 L562.57 573.80 L563.34 573.90 L564.11 573.99 L564.88 574.09 L565.64 574.19 L566.41 574.28" stroke="#ff0000" stroke-width="1.3"/>
</g>
<path d="M393.25 546.16 v2.59" stroke="#0000ff" stroke-width="1.2" fill="none"/>
<rect x="390.60" y="545.50" width="5.3" height="3.9" fill="#0000ff"/>
<path d="M400.82 533.26 v3.60" stroke="#0000ff" stroke-width="1.2" fill="none"/>
<rect x="398.17" y="533.11" width="5.3" height="3.9" fill="#0000ff"/>
<path d="M408.16 520.37 v4.62" stroke="#0000ff" stroke-width="1.2" fill="none"/>
<rect x="405.51" y="520.73" width="5.3" height="3.9" fill="#0000ff"/>
<path d="M415.95 505.33 v5.80" stroke="#0000ff" stroke-width="1.2" fill="none"/>
<rect x="413.30" y="506.28" width="5.3" height="3.9" fill="#0000ff"/>
<path d="M423.52 484.79 v7.42" stroke="#0000ff" stroke-width="1.2" fill="none"/>
<rect x="420.87" y="486.55" width="5.3" height="3.9" fill="#0000ff"/>
<path d="M431.09 471.90 v8.44" stroke="#0000ff" stroke-width="1.2" fill="none"/>
<rect x="428.44" y="474.17" width="5.3" height="3.9" fill="#0000ff"/>
<path d="M438.66 462.11 v9.21" stroke="#0000ff" stroke-width="1.2" fill="none"/>
<rect x="436.01" y="464.77" width="5.3" height="3.9" fill="#0000ff"/>
<path d="M446.23 452.08 v10.00" stroke="#0000ff" stroke-width="1.2" fill="none"/>
<rect x="443.58" y="455.13" width="5.3" height="3.9" fill="#0000ff"/>
<path d="M453.80 453.04 v9.92" stroke="#0000ff" stroke-width="1.2" fill="none"/>
<rect x="451.15" y="456.05" width="5.3" height="3.9" fill="#0000ff"/>
<path d="M461.37 458.53 v9.49" stroke="#0000ff" stroke-width="1.2" fill="none"/>
<rect x="458.72" y="461.33" width="5.3" height="3.9" fill="#0000ff"/>
<path d="M469.17 466.89 v8.83" stroke="#0000ff" stroke-width="1.2" fill="none"/>
<rect x="466.52" y="469.35" width="5.3" height="3.9" fill="#0000ff"/>
<path d="M476.50 473.09 v8.34" stroke="#0000ff" stroke-width="1.2" fill="none"/>
<rect x="473.85" y="475.32" width="5.3" height="3.9" fill="#0000ff"/>
<path d="M484.30 489.57 v7.04" stroke="#0000ff" stroke-width="1.2" fill="none"/>
<rect x="481.65" y="491.14" width="5.3" height="3.9" fill="#0000ff"/>
<path d="M491.87 502.94 v5.99" stroke="#0000ff" stroke-width="1.2" fill="none"/>
<rect x="489.22" y="503.99" width="5.3" height="3.9" fill="#0000ff"/>
<path d="M499.44 512.01 v5.28" stroke="#0000ff" stroke-width="1.2" fill="none"/>
<rect x="496.79" y="512.70" width="5.3" height="3.9" fill="#0000ff"/>
<path d="M507.01 527.06 v4.09" stroke="#0000ff" stroke-width="1.2" fill="none"/>
<rect x="504.36" y="527.15" width="5.3" height="3.9" fill="#0000ff"/>
<path d="M514.58 532.31 v3.68" stroke="#0000ff" stroke-width="1.2" fill="none"/>
<rect x="511.93" y="532.20" width="5.3" height="3.9" fill="#0000ff"/>
<path d="M522.15 538.28 v3.21" stroke="#0000ff" stroke-width="1.2" fill="none"/>
<rect x="519.50" y="537.93" width="5.3" height="3.9" fill="#0000ff"/>
<path d="M529.72 541.86 v2.93" stroke="#0000ff" stroke-width="1.2" fill="none"/>
<rect x="527.07" y="541.37" width="5.3" height="3.9" fill="#0000ff"/>
<path d="M537.51 545.20 v2.66" stroke="#0000ff" stroke-width="1.2" fill="none"/>
<rect x="534.86" y="544.58" width="5.3" height="3.9" fill="#0000ff"/>
<path d="M545.08 549.02 v2.36" stroke="#0000ff" stroke-width="1.2" fill="none"/>
<rect x="542.43" y="548.25" width="5.3" height="3.9" fill="#0000ff"/>
<path d="M552.65 547.11 v2.51" stroke="#0000ff" stroke-width="1.2" fill="none"/>
<rect x="550.00" y="546.42" width="5.3" height="3.9" fill="#0000ff"/>
<path d="M560.22 547.35 v2.49" stroke="#0000ff" stroke-width="1.2" fill="none"/>
<rect x="557.57" y="546.65" width="5.3" height="3.9" fill="#0000ff"/>
<rect x="376.30" y="387.60" width="190.10" height="191.40" fill="none" stroke="#2b2b2b" stroke-width="1.5"/>
<path d="M521.97 579.00 L525.65 579.00 M529.90 579.00 L533.58 579.00 M537.84 579.00 L541.52 579.00 M545.77 579.00 L549.45 579.00 M553.71 579.00 L557.39 579.00 M561.64 579.00 L565.32 579.00" stroke="#0000ff" stroke-width="1.3" fill="none" opacity="0.28"/>
<text x="371.65" y="593.60" font-size="11.20" fill="#222222" text-anchor="start" textLength="9.30" lengthAdjust="spacingAndGlyphs">0</text>
<text x="404.72" y="593.60" font-size="11.20" fill="#222222" text-anchor="start" textLength="19.20" lengthAdjust="spacingAndGlyphs">50</text>
<text x="437.79" y="593.60" font-size="11.20" fill="#222222" text-anchor="start" textLength="29.10" lengthAdjust="spacingAndGlyphs">100</text>
<text x="475.81" y="593.60" font-size="11.20" fill="#222222" text-anchor="start" textLength="29.10" lengthAdjust="spacingAndGlyphs">150</text>
<text x="513.83" y="593.60" font-size="11.20" fill="#222222" text-anchor="start" textLength="29.10" lengthAdjust="spacingAndGlyphs">200</text>
<text x="551.85" y="593.60" font-size="11.20" fill="#222222" text-anchor="start" textLength="29.10" lengthAdjust="spacingAndGlyphs">250</text>
<text x="357.20" y="583.10" font-size="11.20" fill="#222222" text-anchor="start" textLength="9.30" lengthAdjust="spacingAndGlyphs">0</text>
<text x="357.20" y="563.96" font-size="11.20" fill="#222222" text-anchor="start" textLength="9.30" lengthAdjust="spacingAndGlyphs">5</text>
<text x="347.30" y="544.82" font-size="11.20" fill="#222222" text-anchor="start" textLength="19.20" lengthAdjust="spacingAndGlyphs">10</text>
<text x="347.30" y="525.68" font-size="11.20" fill="#222222" text-anchor="start" textLength="19.20" lengthAdjust="spacingAndGlyphs">15</text>
<text x="347.30" y="506.54" font-size="11.20" fill="#222222" text-anchor="start" textLength="19.20" lengthAdjust="spacingAndGlyphs">20</text>
<text x="347.30" y="487.40" font-size="11.20" fill="#222222" text-anchor="start" textLength="19.20" lengthAdjust="spacingAndGlyphs">25</text>
<text x="347.30" y="468.26" font-size="11.20" fill="#222222" text-anchor="start" textLength="19.20" lengthAdjust="spacingAndGlyphs">30</text>
<text x="347.30" y="449.12" font-size="11.20" fill="#222222" text-anchor="start" textLength="19.20" lengthAdjust="spacingAndGlyphs">35</text>
<text x="347.30" y="429.98" font-size="11.20" fill="#222222" text-anchor="start" textLength="19.20" lengthAdjust="spacingAndGlyphs">40</text>
<text x="347.30" y="410.84" font-size="11.20" fill="#222222" text-anchor="start" textLength="19.20" lengthAdjust="spacingAndGlyphs">45</text>
<text x="347.30" y="391.70" font-size="11.20" fill="#222222" text-anchor="start" textLength="19.20" lengthAdjust="spacingAndGlyphs">50</text>
<text x="441.45" y="612.30" font-size="11.20" fill="#222222" text-anchor="start" textLength="60.00" lengthAdjust="spacingAndGlyphs"><tspan font-style="italic">&#969;</tspan> [MeV]</text>
<g transform="translate(332.40 560.50) rotate(-90) scale(1 1.520)" fill="#222222">
<text x="0.00" y="0.00" font-size="10.90" textLength="6.00" lengthAdjust="spacingAndGlyphs">d</text>
<text x="9.30" y="0.00" font-size="10.90" textLength="9.60" lengthAdjust="spacingAndGlyphs">&#963;</text>
<text x="26.00" y="0.00" font-size="10.90" textLength="33.90" lengthAdjust="spacingAndGlyphs">d&#969;d&#937;</text>
<text x="67.10" y="-0.80" font-size="10.90" textLength="5.00" lengthAdjust="spacingAndGlyphs">[</text>
<text x="71.60" y="0.00" font-size="10.90" textLength="17.00" lengthAdjust="spacingAndGlyphs">nb</text>
<text x="91.70" y="0.00" font-size="10.90" textLength="12.40" lengthAdjust="spacingAndGlyphs">sr</text>
<text x="115.50" y="0.00" font-size="10.90" textLength="27.80" lengthAdjust="spacingAndGlyphs">MeV</text>
<text x="150.40" y="-0.80" font-size="10.90" textLength="4.80" lengthAdjust="spacingAndGlyphs">]</text>
</g>
<g transform="translate(323.10 560.50) rotate(-90)" fill="#222222">
<path d="M19.9 12.6 L27.7 -4.6" stroke="#222222" stroke-width="1.05" fill="none"/>
<text x="5.80" y="0" font-size="7.2" textLength="5.80" lengthAdjust="spacingAndGlyphs" stroke="#222222" stroke-width="0.35">3</text>
<text x="105.60" y="0" font-size="7.2" textLength="7.30" lengthAdjust="spacingAndGlyphs" stroke="#222222" stroke-width="0.35">&#8722;1</text>
<text x="144.20" y="0" font-size="7.2" textLength="5.80" lengthAdjust="spacingAndGlyphs" stroke="#222222" stroke-width="0.35">&#8722;1</text>
</g>
</g>
<g id="panel3">
<path d="M112.81 832.60 v-4.20 M112.81 641.70 v4.20 M120.42 832.60 v-4.20 M120.42 641.70 v4.20 M128.02 832.60 v-4.20 M128.02 641.70 v4.20 M135.63 832.60 v-4.20 M135.63 641.70 v4.20 M143.24 832.60 v-7.80 M143.24 641.70 v7.80 M150.85 832.60 v-4.20 M150.85 641.70 v4.20 M158.46 832.60 v-4.20 M158.46 641.70 v4.20 M166.06 832.60 v-4.20 M166.06 641.70 v4.20 M173.67 832.60 v-4.20 M173.67 641.70 v4.20 M181.28 832.60 v-7.80 M181.28 641.70 v7.80 M188.89 832.60 v-4.20 M188.89 641.70 v4.20 M196.50 832.60 v-4.20 M196.50 641.70 v4.20 M204.10 832.60 v-4.20 M204.10 641.70 v4.20 M211.71 832.60 v-4.20 M211.71 641.70 v4.20 M219.32 832.60 v-7.80 M219.32 641.70 v7.80 M226.93 832.60 v-4.20 M226.93 641.70 v4.20 M234.54 832.60 v-4.20 M234.54 641.70 v4.20 M242.14 832.60 v-4.20 M242.14 641.70 v4.20 M249.75 832.60 v-4.20 M249.75 641.70 v4.20 M257.36 832.60 v-7.80 M257.36 641.70 v7.80 M264.97 832.60 v-4.20 M264.97 641.70 v4.20 M272.58 832.60 v-4.20 M272.58 641.70 v4.20 M280.18 832.60 v-4.20 M280.18 641.70 v4.20 M287.79 832.60 v-4.20 M287.79 641.70 v4.20 M105.20 828.78 h4.90 M295.40 828.78 h-4.90 M105.20 824.96 h4.90 M295.40 824.96 h-4.90 M105.20 821.15 h4.90 M295.40 821.15 h-4.90 M105.20 817.33 h4.90 M295.40 817.33 h-4.90 M105.20 813.51 h9.80 M295.40 813.51 h-9.80 M105.20 809.69 h4.90 M295.40 809.69 h-4.90 M105.20 805.87 h4.90 M295.40 805.87 h-4.90 M105.20 802.06 h4.90 M295.40 802.06 h-4.90 M105.20 798.24 h4.90 M295.40 798.24 h-4.90 M105.20 794.42 h9.80 M295.40 794.42 h-9.80 M105.20 790.60 h4.90 M295.40 790.60 h-4.90 M105.20 786.78 h4.90 M295.40 786.78 h-4.90 M105.20 782.97 h4.90 M295.40 782.97 h-4.90 M105.20 779.15 h4.90 M295.40 779.15 h-4.90 M105.20 775.33 h9.80 M295.40 775.33 h-9.80 M105.20 771.51 h4.90 M295.40 771.51 h-4.90 M105.20 767.69 h4.90 M295.40 767.69 h-4.90 M105.20 763.88 h4.90 M295.40 763.88 h-4.90 M105.20 760.06 h4.90 M295.40 760.06 h-4.90 M105.20 756.24 h9.80 M295.40 756.24 h-9.80 M105.20 752.42 h4.90 M295.40 752.42 h-4.90 M105.20 748.60 h4.90 M295.40 748.60 h-4.90 M105.20 744.79 h4.90 M295.40 744.79 h-4.90 M105.20 740.97 h4.90 M295.40 740.97 h-4.90 M105.20 737.15 h9.80 M295.40 737.15 h-9.80 M105.20 733.33 h4.90 M295.40 733.33 h-4.90 M105.20 729.51 h4.90 M295.40 729.51 h-4.90 M105.20 725.70 h4.90 M295.40 725.70 h-4.90 M105.20 721.88 h4.90 M295.40 721.88 h-4.90 M105.20 718.06 h9.80 M295.40 718.06 h-9.80 M105.20 714.24 h4.90 M295.40 714.24 h-4.90 M105.20 710.42 h4.90 M295.40 710.42 h-4.90 M105.20 706.61 h4.90 M295.40 706.61 h-4.90 M105.20 702.79 h4.90 M295.40 702.79 h-4.90 M105.20 698.97 h9.80 M295.40 698.97 h-9.80 M105.20 695.15 h4.90 M295.40 695.15 h-4.90 M105.20 691.33 h4.90 M295.40 691.33 h-4.90 M105.20 687.52 h4.90 M295.40 687.52 h-4.90 M105.20 683.70 h4.90 M295.40 683.70 h-4.90 M105.20 679.88 h9.80 M295.40 679.88 h-9.80 M105.20 676.06 h4.90 M295.40 676.06 h-4.90 M105.20 672.24 h4.90 M295.40 672.24 h-4.90 M105.20 668.43 h4.90 M295.40 668.43 h-4.90 M105.20 664.61 h4.90 M295.40 664.61 h-4.90 M105.20 660.79 h9.80 M295.40 660.79 h-9.80 M105.20 656.97 h4.90 M295.40 656.97 h-4.90 M105.20 653.15 h4.90 M295.40 653.15 h-4.90 M105.20 649.34 h4.90 M295.40 649.34 h-4.90 M105.20 645.52 h4.90 M295.40 645.52 h-4.90" stroke="#5a5a5a" stroke-width="0.75" fill="none"/>
<clipPath id="c3"><rect x="105.20" y="640.70" width="191.00" height="192.90"/></clipPath>
<g clip-path="url(#c3)" fill="none" stroke-linecap="butt" stroke-linejoin="round">
<path d="M134.40 832.64 L134.75 831.97 L135.10 831.30 L135.48 830.65 L135.87 830.02 L136.16 829.61 M139.11 826.69 L139.54 826.35 L140.13 825.88 M143.12 822.99 L143.32 822.75 L143.75 822.14 L144.16 821.52 L144.56 820.88 L144.94 820.24 L145.06 820.04 M147.10 816.57 L147.24 816.35 L147.63 815.71 L147.75 815.51 M149.81 812.05 L149.91 811.87 L150.26 811.21 L150.60 810.55 L150.93 809.88 L151.25 809.20 L151.38 808.93 M152.94 805.28 L153.02 805.08 L153.30 804.38 L153.39 804.14 M154.79 800.44 L154.89 800.17 L155.15 799.47 L155.41 798.77 L155.67 798.07 L155.93 797.37 L156.00 797.20 M157.39 793.50 L157.51 793.17 L157.78 792.48 L157.82 792.36 M159.29 788.67 L159.44 788.32 L159.72 787.63 L160.01 786.94 L160.31 786.25 L160.60 785.57 L160.64 785.48 M162.22 781.83 L162.38 781.45 L162.68 780.76 L162.70 780.71 M164.24 777.04 L164.40 776.63 L164.68 775.93 L164.95 775.24 L165.22 774.54 L165.49 773.84 L165.50 773.82 M166.89 770.12 L167.06 769.64 L167.31 768.97 M168.68 765.26 L168.87 764.73 L169.13 764.03 L169.40 763.34 L169.66 762.64 L169.90 762.03 M171.34 758.34 L171.57 757.76 L171.79 757.20 M173.27 753.52 L173.52 752.91 L173.80 752.22 L174.08 751.53 L174.36 750.83 L174.58 750.32 M176.09 746.64 L176.36 746.00 L176.56 745.52 M178.11 741.86 L178.40 741.19 L178.70 740.50 L179.00 739.82 L179.30 739.14 L179.51 738.68 M181.19 735.07 L181.19 735.06 L181.51 734.39 L181.72 733.96 M183.53 730.39 L183.54 730.38 L183.90 729.71 L184.25 729.06 L184.61 728.40 L184.98 727.75 L185.22 727.32 M187.29 723.86 L187.66 723.27 L187.96 722.81 M190.24 719.46 L190.58 718.97 L191.02 718.37 L191.46 717.76 L191.90 717.16 L192.33 716.58 M194.79 713.32 L195.09 712.93 L195.57 712.33 M198.49 709.39 L198.77 709.17 L199.38 708.76 L200.02 708.39 L200.70 708.07 L201.40 707.80 L201.83 707.67 M206.25 707.29 L206.61 707.33 L207.36 707.45 L207.61 707.51 M211.70 709.06 L212.24 709.37 L212.88 709.76 L213.50 710.18 L214.11 710.61 L214.71 711.07 L214.79 711.14 M217.91 713.94 L218.06 714.10 L218.59 714.64 L218.80 714.86 M221.56 717.93 L221.60 717.98 L222.07 718.56 L222.54 719.14 L222.99 719.73 L223.44 720.33 L223.74 720.75 M225.98 724.13 L226.31 724.69 L226.61 725.20 M228.54 728.72 L228.83 729.27 L229.18 729.94 L229.51 730.61 L229.85 731.28 L230.12 731.83 M231.87 735.42 L232.15 735.99 L232.41 736.52 M234.13 740.12 L234.41 740.71 L234.73 741.38 L235.05 742.05 L235.37 742.73 L235.63 743.26 M237.34 746.87 L237.62 747.45 L237.87 747.98 M239.57 751.59 L239.85 752.18 L240.16 752.86 L240.47 753.54 L240.79 754.22 L241.02 754.74 M242.63 758.38 L242.90 759.01 L243.11 759.51 M244.65 763.17 L244.93 763.83 L245.22 764.52 L245.51 765.21 L245.80 765.90 L245.99 766.36 M247.56 770.02 L247.56 770.02 L247.87 770.70 L248.06 771.14 M249.74 774.75 L249.75 774.77 L250.08 775.44 L250.41 776.11 L250.74 776.77 L251.09 777.44 L251.31 777.87 M253.21 781.40 L253.57 782.05 L253.81 782.48 M255.83 785.96 L256.19 786.57 L256.57 787.22 L256.96 787.86 L257.35 788.50 L257.64 788.97 M259.79 792.40 L260.13 792.93 L260.47 793.44 M262.73 796.81 L263.05 797.27 L263.48 797.88 L263.91 798.49 L264.35 799.10 L264.79 799.70 M267.28 802.94 L267.54 803.26 L268.01 803.84 L268.08 803.92 M270.79 807.03 L270.97 807.21 L271.48 807.75 L272.00 808.29 L272.53 808.82 L273.06 809.35 L273.33 809.61 M276.46 812.41 L276.97 812.83 L277.47 813.23 M280.88 815.75 L281.18 815.96 L281.80 816.37 L282.43 816.78 L283.06 817.18 L283.70 817.58 L284.03 817.77 M287.79 819.89 L288.26 820.13 L288.92 820.47 L288.98 820.50 M292.87 822.44 L292.94 822.47 L293.62 822.80 L294.29 823.12" stroke="#111111" stroke-width="1.3" fill="none" clip-path="url(#c3)"/>
<path d="M130.96 832.64 L131.19 831.82 L131.42 831.00 L131.65 830.18 L131.83 829.53 M132.85 825.94 L133.04 825.24 L133.27 824.42 L133.51 823.60 L133.73 822.83 M134.76 819.24 L134.93 818.68 L135.17 817.86 L135.41 817.04 L135.66 816.22 L135.68 816.14 M136.76 812.57 L136.89 812.14 L137.15 811.32 L137.40 810.51 L137.66 809.69 L137.73 809.48 M138.88 805.92 L138.97 805.63 L139.24 804.82 L139.52 804.01 L139.79 803.20 L139.91 802.84 M141.13 799.30 L141.18 799.16 L141.45 798.35 L141.73 797.55 L142.01 796.74 L142.18 796.23 M143.37 792.68 L143.63 791.88 L143.89 791.07 L144.15 790.25 L144.35 789.60 M145.42 786.01 L145.61 785.34 L145.84 784.52 L146.07 783.70 L146.29 782.90 M147.27 779.30 L147.42 778.75 L147.65 777.93 L147.87 777.10 L148.11 776.28 L148.13 776.19 M149.18 772.61 L149.31 772.19 L149.56 771.37 L149.83 770.56 L150.09 769.75 L150.17 769.53 M151.42 765.99 L151.51 765.73 L151.81 764.93 L152.12 764.14 L152.42 763.34 L152.58 762.95 M153.98 759.46 L154.01 759.37 L154.34 758.58 L154.66 757.79 L154.99 757.00 L155.22 756.45 M156.66 752.97 L156.95 752.27 L157.28 751.47 L157.60 750.68 L157.90 749.95 M159.29 746.46 L159.50 745.92 L159.82 745.13 L160.13 744.34 L160.44 743.54 L160.48 743.43 M161.86 739.93 L162.00 739.57 L162.32 738.77 L162.63 737.98 L162.95 737.19 L163.06 736.90 M164.47 733.41 L164.55 733.23 L164.88 732.44 L165.21 731.65 L165.54 730.87 L165.73 730.41 M167.24 726.95 L167.59 726.17 L167.94 725.39 L168.29 724.61 L168.59 723.97 M170.20 720.54 L170.47 719.97 L170.84 719.21 L171.21 718.44 L171.59 717.67 L171.63 717.59 M173.34 714.21 L173.51 713.86 L173.90 713.10 L174.30 712.35 L174.69 711.59 L174.85 711.29 M176.66 707.94 L176.71 707.84 L177.13 707.09 L177.54 706.34 L177.96 705.59 L178.26 705.06 M180.16 701.75 L180.51 701.14 L180.94 700.40 L181.38 699.66 L181.82 698.93 L181.84 698.90 M183.88 695.65 L184.11 695.31 L184.59 694.60 L185.07 693.89 L185.56 693.20 L185.77 692.91 M188.15 689.84 L188.16 689.83 L188.71 689.18 L189.28 688.55 L189.85 687.93 L190.43 687.33 M193.40 684.68 L193.65 684.48 L194.35 683.96 L195.07 683.47 L195.81 682.99 L196.28 682.70 M200.07 681.04 L200.59 680.91 L201.42 680.77 L202.26 680.72 L203.09 680.75 L203.70 680.84 M207.61 682.25 L207.95 682.43 L208.72 682.88 L209.47 683.35 L210.19 683.85 L210.58 684.13 M213.64 686.69 L214.13 687.16 L214.73 687.77 L215.31 688.39 L215.87 689.03 L215.98 689.16 M218.37 692.22 L218.48 692.38 L218.97 693.08 L219.44 693.79 L219.91 694.51 L220.21 694.99 M222.12 698.30 L222.48 698.96 L222.88 699.72 L223.27 700.48 L223.64 701.21 M225.29 704.62 L225.52 705.11 L225.87 705.88 L226.23 706.66 L226.58 707.44 L226.65 707.60 M228.15 711.06 L228.28 711.35 L228.61 712.13 L228.94 712.92 L229.27 713.71 L229.42 714.06 M230.87 717.54 L230.91 717.65 L231.23 718.44 L231.56 719.23 L231.88 720.02 L232.09 720.56 M233.47 724.06 L233.76 724.79 L234.06 725.59 L234.36 726.38 L234.63 727.09 M235.92 730.62 L236.12 731.20 L236.41 732.00 L236.69 732.81 L236.97 733.61 L237.00 733.68 M238.21 737.23 L238.35 737.65 L238.63 738.46 L238.90 739.27 L239.17 740.08 L239.24 740.30 M240.42 743.85 L240.51 744.14 L240.77 744.95 L241.03 745.76 L241.29 746.57 L241.41 746.94 M242.52 750.51 L242.56 750.65 L242.81 751.47 L243.05 752.29 L243.30 753.11 L243.44 753.61 M244.46 757.20 L244.46 757.21 L244.69 758.03 L244.92 758.86 L245.14 759.68 L245.31 760.31 M246.29 763.91 L246.48 764.63 L246.71 765.45 L246.93 766.27 L247.14 767.03 M248.14 770.62 L248.30 771.21 L248.53 772.03 L248.76 772.86 L248.99 773.68 L249.00 773.73 M249.98 777.33 L250.10 777.80 L250.32 778.63 L250.53 779.45 L250.74 780.28 L250.78 780.46 M251.67 784.08 L251.75 784.43 L251.95 785.26 L252.15 786.09 L252.34 786.92 L252.41 787.21 M253.25 790.84 L253.31 791.08 L253.50 791.91 L253.69 792.75 L253.88 793.58 L253.97 793.98 M254.80 797.60 L254.83 797.74 L255.02 798.58 L255.21 799.41 L255.40 800.24 L255.52 800.74 M256.34 804.37 L256.35 804.40 L256.54 805.23 L256.73 806.06 L256.92 806.90 L257.06 807.51 M257.88 811.14 L258.05 811.88 L258.24 812.71 L258.42 813.54 L258.58 814.28 M259.37 817.92 L259.51 818.56 L259.68 819.40 L259.86 820.24 L260.03 821.07 M260.87 824.69 L261.02 825.25 L261.28 826.07 L261.56 826.87 L261.88 827.66 L261.92 827.76 M263.83 831.05 L264.04 831.33 L264.58 831.99 L265.14 832.64 L265.14 832.60 L266.52 832.60 M270.78 832.60 L274.46 832.60 M278.71 832.60 L282.39 832.60 M286.65 832.60 L290.33 832.60 M294.58 832.60 L295.41 832.60" stroke="#0000ff" stroke-width="1.3"/>
<path d="M128.67 832.64 L128.88 831.91 L129.09 831.17 L129.30 830.44 L129.51 829.70 L129.73 828.97 L129.94 828.23 L130.16 827.50 L130.38 826.77 L130.61 826.04 L130.83 825.31 L131.06 824.58 L131.30 823.85 L131.54 823.13 L131.78 822.40 L132.03 821.68 L132.28 820.96 L132.55 820.25 L132.81 819.53 L133.09 818.82 L133.37 818.11 L133.65 817.40 L133.94 816.70 L134.24 815.99 L134.54 815.29 L134.85 814.59 L135.16 813.89 L135.48 813.20 L135.80 812.50 L136.12 811.81 L136.44 811.12 L136.77 810.43 L137.10 809.74 L137.44 809.05 L137.77 808.36 L138.11 807.68 L138.45 806.99 L138.79 806.31 L139.13 805.62 L139.47 804.94 L139.81 804.26 L140.16 803.57 L140.50 802.89 L140.84 802.21 L141.19 801.53 L141.53 800.84 L141.87 800.16 L142.22 799.48 L142.56 798.80 L142.90 798.12 L143.24 797.43 L143.58 796.75 L143.92 796.06 L144.26 795.38 L144.60 794.69 L144.93 794.01 L145.27 793.32 L145.60 792.63 L145.94 791.95 L146.27 791.26 L146.61 790.57 L146.94 789.89 L147.28 789.20 L147.62 788.52 L147.96 787.83 L148.30 787.15 L148.64 786.47 L148.99 785.79 L149.34 785.11 L149.69 784.43 L150.05 783.75 L150.41 783.08 L150.77 782.41 L151.14 781.74 L151.51 781.07 L151.88 780.40 L152.26 779.74 L152.63 779.07 L153.01 778.41 L153.39 777.74 L153.77 777.08 L154.14 776.42 L154.52 775.75 L154.89 775.08 L155.26 774.42 L155.63 773.75 L156.00 773.08 L156.36 772.40 L156.72 771.73 L157.07 771.05 L157.41 770.37 L157.76 769.69 L158.10 769.01 L158.43 768.32 L158.76 767.63 L159.09 766.94 L159.41 766.25 L159.73 765.55 L160.05 764.86 L160.36 764.16 L160.67 763.46 L160.98 762.77 L161.29 762.07 L161.60 761.37 L161.90 760.66 L162.21 759.96 L162.51 759.26 L162.81 758.56 L163.11 757.86 L163.42 757.15 L163.72 756.45 L164.02 755.75 L164.32 755.05 L164.62 754.34 L164.93 753.64 L165.23 752.94 L165.53 752.24 L165.84 751.54 L166.14 750.84 L166.45 750.14 L166.76 749.44 L167.07 748.74 L167.38 748.04 L167.70 747.35 L168.01 746.65 L168.33 745.96 L168.65 745.27 L168.97 744.58 L169.30 743.88 L169.63 743.20 L169.96 742.51 L170.29 741.82 L170.63 741.14 L170.97 740.46 L171.32 739.77 L171.66 739.09 L172.01 738.42 L172.36 737.74 L172.72 737.06 L173.08 736.39 L173.44 735.72 L173.80 735.04 L174.17 734.37 L174.54 733.70 L174.91 733.04 L175.28 732.37 L175.65 731.70 L176.03 731.04 L176.41 730.37 L176.79 729.71 L177.18 729.05 L177.56 728.38 L177.95 727.72 L178.33 727.06 L178.73 726.41 L179.12 725.75 L179.52 725.09 L179.92 724.44 L180.32 723.79 L180.73 723.14 L181.14 722.50 L181.56 721.86 L181.99 721.23 L182.42 720.59 L182.85 719.97 L183.30 719.35 L183.75 718.73 L184.21 718.12 L184.67 717.51 L185.15 716.92 L185.63 716.33 L186.12 715.74 L186.63 715.17 L187.14 714.60 L187.67 714.05 L188.21 713.50 L188.76 712.97 L189.32 712.45 L189.90 711.95 L190.49 711.46 L191.10 710.99 L191.72 710.53 L192.36 710.09 L193.01 709.68 L193.69 709.28 L194.38 708.91 L195.08 708.56 L195.79 708.25 L196.52 707.97 L197.26 707.73 L198.00 707.53 L198.75 707.38 L199.50 707.28 L200.26 707.23 L201.02 707.24 L201.78 707.31 L202.54 707.42 L203.29 707.59 L204.04 707.80 L204.77 708.06 L205.50 708.36 L206.20 708.69 L206.90 709.06 L207.57 709.46 L208.22 709.88 L208.85 710.33 L209.45 710.81 L210.04 711.30 L210.60 711.82 L211.15 712.35 L211.68 712.91 L212.20 713.47 L212.70 714.06 L213.19 714.65 L213.66 715.26 L214.12 715.87 L214.58 716.49 L215.02 717.12 L215.46 717.76 L215.89 718.40 L216.31 719.04 L216.73 719.68 L217.14 720.33 L217.55 720.98 L217.95 721.63 L218.35 722.28 L218.74 722.94 L219.13 723.59 L219.51 724.26 L219.89 724.92 L220.27 725.58 L220.64 726.25 L221.00 726.92 L221.37 727.59 L221.73 728.26 L222.08 728.94 L222.43 729.61 L222.78 730.29 L223.13 730.97 L223.48 731.65 L223.82 732.33 L224.16 733.02 L224.49 733.70 L224.83 734.39 L225.16 735.07 L225.50 735.76 L225.83 736.45 L226.16 737.14 L226.49 737.83 L226.82 738.52 L227.15 739.21 L227.47 739.90 L227.80 740.59 L228.13 741.28 L228.46 741.97 L228.78 742.66 L229.11 743.35 L229.44 744.04 L229.77 744.73 L230.11 745.42 L230.44 746.10 L230.77 746.79 L231.10 747.48 L231.44 748.17 L231.77 748.85 L232.11 749.54 L232.44 750.23 L232.77 750.91 L233.11 751.60 L233.44 752.29 L233.77 752.98 L234.10 753.67 L234.42 754.36 L234.75 755.05 L235.08 755.74 L235.40 756.43 L235.72 757.12 L236.04 757.82 L236.35 758.51 L236.67 759.21 L236.98 759.91 L237.30 760.60 L237.61 761.30 L237.92 762.00 L238.23 762.70 L238.54 763.40 L238.84 764.09 L239.15 764.79 L239.46 765.49 L239.77 766.19 L240.08 766.89 L240.38 767.59 L240.69 768.29 L241.00 768.99 L241.31 769.69 L241.62 770.38 L241.93 771.08 L242.24 771.78 L242.56 772.48 L242.87 773.17 L243.19 773.87 L243.51 774.56 L243.82 775.26 L244.15 775.95 L244.47 776.64 L244.79 777.33 L245.12 778.02 L245.44 778.71 L245.77 779.40 L246.11 780.09 L246.44 780.78 L246.78 781.46 L247.12 782.15 L247.46 782.83 L247.80 783.52 L248.15 784.20 L248.50 784.88 L248.85 785.55 L249.21 786.23 L249.57 786.90 L249.94 787.58 L250.31 788.25 L250.68 788.91 L251.06 789.58 L251.44 790.24 L251.83 790.90 L252.22 791.55 L252.61 792.21 L253.02 792.85 L253.43 793.50 L253.84 794.14 L254.26 794.78 L254.69 795.42 L255.12 796.05 L255.55 796.67 L256.00 797.30 L256.45 797.91 L256.90 798.53 L257.36 799.14 L257.83 799.75 L258.30 800.35 L258.78 800.94 L259.26 801.54 L259.75 802.12 L260.25 802.71 L260.75 803.28 L261.26 803.86 L261.77 804.42 L262.29 804.99 L262.81 805.54 L263.34 806.09 L263.88 806.64 L264.42 807.18 L264.97 807.71 L265.53 808.23 L266.09 808.75 L266.66 809.26 L267.23 809.76 L267.81 810.26 L268.40 810.75 L268.99 811.23 L269.59 811.70 L270.20 812.17 L270.81 812.63 L271.42 813.09 L272.04 813.53 L272.67 813.97 L273.30 814.41 L273.93 814.84 L274.57 815.26 L275.21 815.68 L275.85 816.10 L276.50 816.50 L277.15 816.90 L277.81 817.29 L278.47 817.67 L279.14 818.04 L279.81 818.41 L280.49 818.76 L281.17 819.10 L281.86 819.43 L282.55 819.75 L283.25 820.06 L283.95 820.36 L284.66 820.65 L285.37 820.94 L286.08 821.22 L286.79 821.49 L287.51 821.77 L288.22 822.03 L288.94 822.30 L289.66 822.56 L290.38 822.82 L291.10 823.08 L291.81 823.34 L292.53 823.60 L293.25 823.85 L293.97 824.11 L294.69 824.36 L295.41 824.61" stroke="#ff0000" stroke-width="1.3"/>
</g>
<path d="M120.18 828.20 v2.00" stroke="#ff0000" stroke-width="1.2" fill="none"/>
<ellipse cx="120.18" cy="829.20" rx="2.6" ry="2.1" fill="#ff0000"/>
<path d="M125.23 830.04 v2.00" stroke="#ff0000" stroke-width="1.2" fill="none"/>
<ellipse cx="125.23" cy="831.04" rx="2.6" ry="2.1" fill="#ff0000"/>
<path d="M127.52 820.63 v2.00" stroke="#ff0000" stroke-width="1.2" fill="none"/>
<ellipse cx="127.52" cy="821.63" rx="2.6" ry="2.1" fill="#ff0000"/>
<path d="M132.34 805.19 v2.16" stroke="#ff0000" stroke-width="1.2" fill="none"/>
<ellipse cx="132.34" cy="806.27" rx="2.6" ry="2.1" fill="#ff0000"/>
<path d="M135.55 808.48 v2.00" stroke="#ff0000" stroke-width="1.2" fill="none"/>
<ellipse cx="135.55" cy="809.48" rx="2.6" ry="2.1" fill="#ff0000"/>
<path d="M139.68 813.75 v2.00" stroke="#ff0000" stroke-width="1.2" fill="none"/>
<ellipse cx="139.68" cy="814.75" rx="2.6" ry="2.1" fill="#ff0000"/>
<path d="M147.25 807.56 v2.00" stroke="#ff0000" stroke-width="1.2" fill="none"/>
<ellipse cx="147.25" cy="808.56" rx="2.6" ry="2.1" fill="#ff0000"/>
<path d="M150.92 781.07 v4.06" stroke="#ff0000" stroke-width="1.2" fill="none"/>
<ellipse cx="150.92" cy="783.10" rx="2.6" ry="2.1" fill="#ff0000"/>
<path d="M155.05 772.95 v4.70" stroke="#ff0000" stroke-width="1.2" fill="none"/>
<ellipse cx="155.05" cy="775.30" rx="2.6" ry="2.1" fill="#ff0000"/>
<path d="M162.61 758.15 v5.86" stroke="#ff0000" stroke-width="1.2" fill="none"/>
<ellipse cx="162.61" cy="761.08" rx="2.6" ry="2.1" fill="#ff0000"/>
<path d="M170.18 738.09 v7.44" stroke="#ff0000" stroke-width="1.2" fill="none"/>
<ellipse cx="170.18" cy="741.82" rx="2.6" ry="2.1" fill="#ff0000"/>
<path d="M177.75 724.25 v8.54" stroke="#ff0000" stroke-width="1.2" fill="none"/>
<ellipse cx="177.75" cy="728.51" rx="2.6" ry="2.1" fill="#ff0000"/>
<path d="M180.73 708.25 v9.80" stroke="#ff0000" stroke-width="1.2" fill="none"/>
<ellipse cx="180.73" cy="713.15" rx="2.6" ry="2.1" fill="#ff0000"/>
<path d="M185.32 706.82 v9.91" stroke="#ff0000" stroke-width="1.2" fill="none"/>
<ellipse cx="185.32" cy="711.77" rx="2.6" ry="2.1" fill="#ff0000"/>
<path d="M191.97 691.77 v11.09" stroke="#ff0000" stroke-width="1.2" fill="none"/>
<ellipse cx="191.97" cy="697.32" rx="2.6" ry="2.1" fill="#ff0000"/>
<path d="M200.23 693.92 v10.92" stroke="#ff0000" stroke-width="1.2" fill="none"/>
<ellipse cx="200.23" cy="699.39" rx="2.6" ry="2.1" fill="#ff0000"/>
<path d="M207.57 687.72 v11.41" stroke="#ff0000" stroke-width="1.2" fill="none"/>
<ellipse cx="207.57" cy="693.42" rx="2.6" ry="2.1" fill="#ff0000"/>
<path d="M211.24 700.85 v10.38" stroke="#ff0000" stroke-width="1.2" fill="none"/>
<ellipse cx="211.24" cy="706.04" rx="2.6" ry="2.1" fill="#ff0000"/>
<path d="M214.91 693.68 v10.94" stroke="#ff0000" stroke-width="1.2" fill="none"/>
<ellipse cx="214.91" cy="699.16" rx="2.6" ry="2.1" fill="#ff0000"/>
<path d="M222.48 702.28 v10.27" stroke="#ff0000" stroke-width="1.2" fill="none"/>
<ellipse cx="222.48" cy="707.41" rx="2.6" ry="2.1" fill="#ff0000"/>
<path d="M230.05 714.70 v9.29" stroke="#ff0000" stroke-width="1.2" fill="none"/>
<ellipse cx="230.05" cy="719.34" rx="2.6" ry="2.1" fill="#ff0000"/>
<path d="M237.61 728.54 v8.20" stroke="#ff0000" stroke-width="1.2" fill="none"/>
<ellipse cx="237.61" cy="732.64" rx="2.6" ry="2.1" fill="#ff0000"/>
<path d="M244.95 744.54 v6.94" stroke="#ff0000" stroke-width="1.2" fill="none"/>
<ellipse cx="244.95" cy="748.01" rx="2.6" ry="2.1" fill="#ff0000"/>
<path d="M252.52 757.43 v5.92" stroke="#ff0000" stroke-width="1.2" fill="none"/>
<ellipse cx="252.52" cy="760.39" rx="2.6" ry="2.1" fill="#ff0000"/>
<path d="M260.09 765.31 v5.30" stroke="#ff0000" stroke-width="1.2" fill="none"/>
<ellipse cx="260.09" cy="767.96" rx="2.6" ry="2.1" fill="#ff0000"/>
<path d="M267.66 773.67 v4.64" stroke="#ff0000" stroke-width="1.2" fill="none"/>
<ellipse cx="267.66" cy="775.99" rx="2.6" ry="2.1" fill="#ff0000"/>
<path d="M275.23 780.12 v4.13" stroke="#ff0000" stroke-width="1.2" fill="none"/>
<ellipse cx="275.23" cy="782.18" rx="2.6" ry="2.1" fill="#ff0000"/>
<path d="M282.80 780.36 v4.12" stroke="#ff0000" stroke-width="1.2" fill="none"/>
<ellipse cx="282.80" cy="782.41" rx="2.6" ry="2.1" fill="#ff0000"/>
<path d="M290.37 784.41 v3.80" stroke="#ff0000" stroke-width="1.2" fill="none"/>
<ellipse cx="290.37" cy="786.31" rx="2.6" ry="2.1" fill="#ff0000"/>
<rect x="105.20" y="641.70" width="190.20" height="190.90" fill="none" stroke="#2b2b2b" stroke-width="1.5"/>
<path d="M267.14 832.60 L270.82 832.60 M275.07 832.60 L278.75 832.60 M283.01 832.60 L286.69 832.60 M290.94 832.60 L294.62 832.60" stroke="#0000ff" stroke-width="1.3" fill="none" opacity="0.28"/>
<text x="100.55" y="847.20" font-size="11.20" fill="#222222" text-anchor="start" textLength="9.30" lengthAdjust="spacingAndGlyphs">0</text>
<text x="133.64" y="847.20" font-size="11.20" fill="#222222" text-anchor="start" textLength="19.20" lengthAdjust="spacingAndGlyphs">50</text>
<text x="166.73" y="847.20" font-size="11.20" fill="#222222" text-anchor="start" textLength="29.10" lengthAdjust="spacingAndGlyphs">100</text>
<text x="204.77" y="847.20" font-size="11.20" fill="#222222" text-anchor="start" textLength="29.10" lengthAdjust="spacingAndGlyphs">150</text>
<text x="242.81" y="847.20" font-size="11.20" fill="#222222" text-anchor="start" textLength="29.10" lengthAdjust="spacingAndGlyphs">200</text>
<text x="280.85" y="847.20" font-size="11.20" fill="#222222" text-anchor="start" textLength="29.10" lengthAdjust="spacingAndGlyphs">250</text>
<text x="86.10" y="836.70" font-size="11.20" fill="#222222" text-anchor="start" textLength="9.30" lengthAdjust="spacingAndGlyphs">0</text>
<text x="86.10" y="817.61" font-size="11.20" fill="#222222" text-anchor="start" textLength="9.30" lengthAdjust="spacingAndGlyphs">1</text>
<text x="86.10" y="798.52" font-size="11.20" fill="#222222" text-anchor="start" textLength="9.30" lengthAdjust="spacingAndGlyphs">2</text>
<text x="86.10" y="779.43" font-size="11.20" fill="#222222" text-anchor="start" textLength="9.30" lengthAdjust="spacingAndGlyphs">3</text>
<text x="86.10" y="760.34" font-size="11.20" fill="#222222" text-anchor="start" textLength="9.30" lengthAdjust="spacingAndGlyphs">4</text>
<text x="86.10" y="741.25" font-size="11.20" fill="#222222" text-anchor="start" textLength="9.30" lengthAdjust="spacingAndGlyphs">5</text>
<text x="86.10" y="722.16" font-size="11.20" fill="#222222" text-anchor="start" textLength="9.30" lengthAdjust="spacingAndGlyphs">6</text>
<text x="86.10" y="703.07" font-size="11.20" fill="#222222" text-anchor="start" textLength="9.30" lengthAdjust="spacingAndGlyphs">7</text>
<text x="86.10" y="683.98" font-size="11.20" fill="#222222" text-anchor="start" textLength="9.30" lengthAdjust="spacingAndGlyphs">8</text>
<text x="86.10" y="664.89" font-size="11.20" fill="#222222" text-anchor="start" textLength="9.30" lengthAdjust="spacingAndGlyphs">9</text>
<text x="76.20" y="645.80" font-size="11.20" fill="#222222" text-anchor="start" textLength="19.20" lengthAdjust="spacingAndGlyphs">10</text>
<text x="170.40" y="865.90" font-size="11.20" fill="#222222" text-anchor="start" textLength="60.00" lengthAdjust="spacingAndGlyphs"><tspan font-style="italic">&#969;</tspan> [MeV]</text>
<g transform="translate(61.30 814.10) rotate(-90) scale(1 1.520)" fill="#222222">
<text x="0.00" y="0.00" font-size="10.90" textLength="6.00" lengthAdjust="spacingAndGlyphs">d</text>
<text x="9.30" y="0.00" font-size="10.90" textLength="9.60" lengthAdjust="spacingAndGlyphs">&#963;</text>
<text x="26.00" y="0.00" font-size="10.90" textLength="33.90" lengthAdjust="spacingAndGlyphs">d&#969;d&#937;</text>
<text x="67.10" y="-0.80" font-size="10.90" textLength="5.00" lengthAdjust="spacingAndGlyphs">[</text>
<text x="71.60" y="0.00" font-size="10.90" textLength="17.00" lengthAdjust="spacingAndGlyphs">nb</text>
<text x="91.70" y="0.00" font-size="10.90" textLength="12.40" lengthAdjust="spacingAndGlyphs">sr</text>
<text x="115.50" y="0.00" font-size="10.90" textLength="27.80" lengthAdjust="spacingAndGlyphs">MeV</text>
<text x="150.40" y="-0.80" font-size="10.90" textLength="4.80" lengthAdjust="spacingAndGlyphs">]</text>
</g>
<g transform="translate(52.00 814.10) rotate(-90)" fill="#222222">
<path d="M19.9 12.6 L27.7 -4.6" stroke="#222222" stroke-width="1.05" fill="none"/>
<text x="5.80" y="0" font-size="7.2" textLength="5.80" lengthAdjust="spacingAndGlyphs" stroke="#222222" stroke-width="0.35">3</text>
<text x="105.60" y="0" font-size="7.2" textLength="7.30" lengthAdjust="spacingAndGlyphs" stroke="#222222" stroke-width="0.35">&#8722;1</text>
<text x="144.20" y="0" font-size="7.2" textLength="5.80" lengthAdjust="spacingAndGlyphs" stroke="#222222" stroke-width="0.35">&#8722;1</text>
</g>
</g>
<g id="panel4">
<path d="M385.81 832.60 v-4.20 M385.81 641.70 v4.20 M395.31 832.60 v-4.20 M395.31 641.70 v4.20 M404.81 832.60 v-4.20 M404.81 641.70 v4.20 M414.32 832.60 v-4.20 M414.32 641.70 v4.20 M423.82 832.60 v-7.80 M423.82 641.70 v7.80 M433.33 832.60 v-4.20 M433.33 641.70 v4.20 M442.84 832.60 v-4.20 M442.84 641.70 v4.20 M452.34 832.60 v-4.20 M452.34 641.70 v4.20 M461.85 832.60 v-4.20 M461.85 641.70 v4.20 M471.35 832.60 v-7.80 M471.35 641.70 v7.80 M480.86 832.60 v-4.20 M480.86 641.70 v4.20 M490.36 832.60 v-4.20 M490.36 641.70 v4.20 M499.87 832.60 v-4.20 M499.87 641.70 v4.20 M509.37 832.60 v-4.20 M509.37 641.70 v4.20 M518.88 832.60 v-7.80 M518.88 641.70 v7.80 M528.38 832.60 v-4.20 M528.38 641.70 v4.20 M537.88 832.60 v-4.20 M537.88 641.70 v4.20 M547.39 832.60 v-4.20 M547.39 641.70 v4.20 M556.89 832.60 v-4.20 M556.89 641.70 v4.20 M376.30 828.78 h4.90 M566.40 828.78 h-4.90 M376.30 824.96 h4.90 M566.40 824.96 h-4.90 M376.30 821.15 h4.90 M566.40 821.15 h-4.90 M376.30 817.33 h4.90 M566.40 817.33 h-4.90 M376.30 813.51 h9.80 M566.40 813.51 h-9.80 M376.30 809.69 h4.90 M566.40 809.69 h-4.90 M376.30 805.87 h4.90 M566.40 805.87 h-4.90 M376.30 802.06 h4.90 M566.40 802.06 h-4.90 M376.30 798.24 h4.90 M566.40 798.24 h-4.90 M376.30 794.42 h9.80 M566.40 794.42 h-9.80 M376.30 790.60 h4.90 M566.40 790.60 h-4.90 M376.30 786.78 h4.90 M566.40 786.78 h-4.90 M376.30 782.97 h4.90 M566.40 782.97 h-4.90 M376.30 779.15 h4.90 M566.40 779.15 h-4.90 M376.30 775.33 h9.80 M566.40 775.33 h-9.80 M376.30 771.51 h4.90 M566.40 771.51 h-4.90 M376.30 767.69 h4.90 M566.40 767.69 h-4.90 M376.30 763.88 h4.90 M566.40 763.88 h-4.90 M376.30 760.06 h4.90 M566.40 760.06 h-4.90 M376.30 756.24 h9.80 M566.40 756.24 h-9.80 M376.30 752.42 h4.90 M566.40 752.42 h-4.90 M376.30 748.60 h4.90 M566.40 748.60 h-4.90 M376.30 744.79 h4.90 M566.40 744.79 h-4.90 M376.30 740.97 h4.90 M566.40 740.97 h-4.90 M376.30 737.15 h9.80 M566.40 737.15 h-9.80 M376.30 733.33 h4.90 M566.40 733.33 h-4.90 M376.30 729.51 h4.90 M566.40 729.51 h-4.90 M376.30 725.70 h4.90 M566.40 725.70 h-4.90 M376.30 721.88 h4.90 M566.40 721.88 h-4.90 M376.30 718.06 h9.80 M566.40 718.06 h-9.80 M376.30 714.24 h4.90 M566.40 714.24 h-4.90 M376.30 710.42 h4.90 M566.40 710.42 h-4.90 M376.30 706.61 h4.90 M566.40 706.61 h-4.90 M376.30 702.79 h4.90 M566.40 702.79 h-4.90 M376.30 698.97 h9.80 M566.40 698.97 h-9.80 M376.30 695.15 h4.90 M566.40 695.15 h-4.90 M376.30 691.33 h4.90 M566.40 691.33 h-4.90 M376.30 687.52 h4.90 M566.40 687.52 h-4.90 M376.30 683.70 h4.90 M566.40 683.70 h-4.90 M376.30 679.88 h9.80 M566.40 679.88 h-9.80 M376.30 676.06 h4.90 M566.40 676.06 h-4.90 M376.30 672.24 h4.90 M566.40 672.24 h-4.90 M376.30 668.43 h4.90 M566.40 668.43 h-4.90 M376.30 664.61 h4.90 M566.40 664.61 h-4.90 M376.30 660.79 h9.80 M566.40 660.79 h-9.80 M376.30 656.97 h4.90 M566.40 656.97 h-4.90 M376.30 653.15 h4.90 M566.40 653.15 h-4.90 M376.30 649.34 h4.90 M566.40 649.34 h-4.90 M376.30 645.52 h4.90 M566.40 645.52 h-4.90" stroke="#5a5a5a" stroke-width="0.75" fill="none"/>
<clipPath id="c4"><rect x="376.30" y="640.70" width="190.90" height="192.90"/></clipPath>
<g clip-path="url(#c4)" fill="none" stroke-linecap="butt" stroke-linejoin="round">
<path d="M404.49 798.47 L404.65 797.76 L404.82 797.06 L404.98 796.35 L405.15 795.65 L405.22 795.33 M406.07 791.71 L406.13 791.41 L406.30 790.71 L406.46 790.00 L406.63 789.29 L406.79 788.59 L406.80 788.57 M407.63 784.94 L407.77 784.35 L407.93 783.65 L408.10 782.94 L408.26 782.23 L408.36 781.80 M409.18 778.17 L409.22 777.99 L409.38 777.29 L409.54 776.58 L409.70 775.87 L409.86 775.17 L409.89 775.03 M410.71 771.40 L410.82 770.93 L410.98 770.22 L411.15 769.51 L411.31 768.81 L411.43 768.27 M412.28 764.64 L412.30 764.57 L412.47 763.87 L412.64 763.16 L412.81 762.46 L412.98 761.76 L413.04 761.51 M413.95 757.89 L414.04 757.54 L414.22 756.84 L414.40 756.14 L414.59 755.44 L414.77 754.77 M415.75 751.17 L415.93 750.54 L416.12 749.84 L416.32 749.15 L416.52 748.45 L416.64 748.07 M417.70 744.49 L417.76 744.28 L417.97 743.59 L418.19 742.90 L418.40 742.20 L418.62 741.51 L418.66 741.40 M419.80 737.83 L419.95 737.37 L420.18 736.69 L420.41 736.00 L420.64 735.31 L420.83 734.76 M422.06 731.22 L422.06 731.20 L422.30 730.52 L422.55 729.84 L422.79 729.16 L423.04 728.48 L423.15 728.16 M424.45 724.64 L424.54 724.39 L424.79 723.72 L425.05 723.04 L425.30 722.36 L425.56 721.68 L425.59 721.60 M426.95 718.09 L427.13 717.62 L427.39 716.95 L427.66 716.27 L427.93 715.60 L428.14 715.06 M429.56 711.58 L429.57 711.56 L429.85 710.90 L430.13 710.23 L430.41 709.56 L430.70 708.90 L430.84 708.57 M432.38 705.12 L432.47 704.93 L432.77 704.27 L433.08 703.62 L433.39 702.96 L433.70 702.31 L433.77 702.16 M435.50 698.78 L435.68 698.45 L436.02 697.82 L436.38 697.19 L436.74 696.56 L437.11 695.93 L437.12 695.91 M439.20 692.68 L439.50 692.26 L439.93 691.66 L440.38 691.07 L440.83 690.49 L441.23 690.02 M444.11 687.30 L444.53 687.00 L445.15 686.61 L445.79 686.26 L446.45 685.95 L447.14 685.68 L447.24 685.65 M451.41 685.30 L451.43 685.30 L452.14 685.46 L452.85 685.67 L453.54 685.93 L454.22 686.23 L454.79 686.52 M458.12 688.82 L458.45 689.11 L458.99 689.61 L459.50 690.11 L460.01 690.64 L460.50 691.17 L460.55 691.22 M462.99 694.25 L463.23 694.57 L463.65 695.16 L464.06 695.75 L464.47 696.35 L464.87 696.96 L464.89 696.99 M466.86 700.27 L467.11 700.70 L467.46 701.33 L467.80 701.97 L468.14 702.61 L468.42 703.16 M470.08 706.57 L470.36 707.17 L470.66 707.83 L470.96 708.49 L471.26 709.15 L471.43 709.55 M472.93 713.01 L472.98 713.15 L473.27 713.81 L473.55 714.48 L473.83 715.15 L474.11 715.82 L474.20 716.01 M475.68 719.48 L475.82 719.82 L476.10 720.48 L476.39 721.15 L476.67 721.82 L476.96 722.48 L476.96 722.48 M478.44 725.95 L478.67 726.48 L478.95 727.15 L479.23 727.81 L479.51 728.48 L479.71 728.95 M481.15 732.44 L481.18 732.50 L481.45 733.17 L481.72 733.84 L481.99 734.51 L482.26 735.19 L482.37 735.46 M483.74 738.96 L483.85 739.23 L484.11 739.91 L484.37 740.59 L484.62 741.27 L484.88 741.95 L484.90 742.00 M486.19 745.52 L486.38 746.03 L486.62 746.71 L486.86 747.39 L487.10 748.08 L487.28 748.58 M488.49 752.12 L488.51 752.19 L488.74 752.88 L488.97 753.57 L489.19 754.25 L489.42 754.94 L489.50 755.20 M490.61 758.77 L490.71 759.10 L490.92 759.79 L491.13 760.48 L491.33 761.18 L491.53 761.87 M492.57 765.46 L492.74 766.05 L492.95 766.75 L493.15 767.44 L493.35 768.14 L493.47 768.56 M494.52 772.15 L494.57 772.31 L494.78 773.01 L494.99 773.70 L495.20 774.39 L495.41 775.09 L495.46 775.24 M496.56 778.82 L496.69 779.24 L496.91 779.93 L497.12 780.62 L497.34 781.31 L497.53 781.90 M498.66 785.47 L498.88 786.15 L499.09 786.84 L499.31 787.53 L499.53 788.22 L499.63 788.56 M500.72 792.13 L500.80 792.38 L501.00 793.08 L501.20 793.77 L501.40 794.47 L501.59 795.17 L501.61 795.24 M502.57 798.84 L502.71 799.37 L502.89 800.07 L503.06 800.78 L503.24 801.48 L503.37 801.97 M504.29 805.58 L504.32 805.69 L504.50 806.39 L504.69 807.09 L504.88 807.79 L505.07 808.49 L505.13 808.69 M506.16 812.29 L506.27 812.67 L506.47 813.36 L506.67 814.06 L506.88 814.76 L507.06 815.39 M508.08 818.98 L508.26 819.64 L508.46 820.34 L508.65 821.04 L508.85 821.74 L508.95 822.09 M510.03 825.67 L510.10 825.90 L510.34 826.58 L510.58 827.26 L510.83 827.94 L511.09 828.62 L511.13 828.72 M512.56 832.21 L512.74 832.64 L512.74 832.60 L515.84 832.60 M520.09 832.60 L523.77 832.60" stroke="#0000ff" stroke-width="1.3"/>
<path d="M404.49 799.39 L404.76 798.85 L405.04 798.32 L405.31 797.78 L405.59 797.25 L405.86 796.71 L406.13 796.17 L406.40 795.64 L406.67 795.10 L406.94 794.56 L407.20 794.02 L407.46 793.48 L407.72 792.94 L407.97 792.39 L408.22 791.85 L408.47 791.30 L408.71 790.75 L408.95 790.20 L409.18 789.65 L409.41 789.09 L409.63 788.53 L409.85 787.98 L410.06 787.42 L410.28 786.85 L410.49 786.29 L410.69 785.73 L410.90 785.16 L411.10 784.60 L411.30 784.03 L411.50 783.46 L411.69 782.89 L411.89 782.33 L412.09 781.76 L412.28 781.19 L412.47 780.62 L412.67 780.05 L412.86 779.48 L413.06 778.91 L413.25 778.34 L413.45 777.77 L413.65 777.21 L413.85 776.64 L414.05 776.07 L414.25 775.51 L414.45 774.94 L414.66 774.38 L414.86 773.81 L415.06 773.25 L415.27 772.68 L415.48 772.12 L415.68 771.55 L415.89 770.99 L416.10 770.43 L416.31 769.86 L416.51 769.30 L416.72 768.74 L416.93 768.17 L417.14 767.61 L417.35 767.05 L417.55 766.48 L417.76 765.92 L417.97 765.35 L418.17 764.79 L418.38 764.23 L418.58 763.66 L418.79 763.10 L418.99 762.53 L419.20 761.97 L419.40 761.40 L419.61 760.84 L419.81 760.27 L420.01 759.71 L420.22 759.14 L420.42 758.58 L420.63 758.01 L420.84 757.45 L421.04 756.88 L421.25 756.32 L421.46 755.76 L421.67 755.19 L421.88 754.63 L422.09 754.07 L422.30 753.51 L422.52 752.95 L422.73 752.38 L422.95 751.82 L423.16 751.26 L423.38 750.70 L423.60 750.15 L423.82 749.59 L424.04 749.03 L424.27 748.47 L424.49 747.91 L424.71 747.35 L424.94 746.80 L425.16 746.24 L425.39 745.68 L425.61 745.13 L425.84 744.57 L426.07 744.01 L426.29 743.46 L426.52 742.90 L426.74 742.34 L426.97 741.79 L427.20 741.23 L427.42 740.67 L427.65 740.12 L427.87 739.56 L428.09 739.00 L428.32 738.45 L428.55 737.89 L428.77 737.33 L429.00 736.78 L429.23 736.22 L429.45 735.67 L429.68 735.11 L429.92 734.56 L430.15 734.01 L430.39 733.45 L430.62 732.90 L430.86 732.35 L431.11 731.80 L431.35 731.25 L431.60 730.70 L431.85 730.16 L432.11 729.61 L432.36 729.07 L432.63 728.53 L432.89 727.99 L433.16 727.45 L433.44 726.91 L433.72 726.37 L434.00 725.84 L434.29 725.31 L434.58 724.78 L434.88 724.26 L435.18 723.74 L435.49 723.22 L435.80 722.71 L436.12 722.20 L436.45 721.69 L436.78 721.19 L437.12 720.69 L437.46 720.20 L437.81 719.71 L438.17 719.23 L438.54 718.75 L438.91 718.28 L439.29 717.82 L439.67 717.36 L440.06 716.91 L440.47 716.46 L440.88 716.03 L441.30 715.60 L441.73 715.18 L442.17 714.77 L442.62 714.38 L443.08 713.99 L443.55 713.61 L444.04 713.25 L444.54 712.90 L445.05 712.56 L445.58 712.23 L446.12 711.92 L446.67 711.63 L447.24 711.36 L447.81 711.12 L448.39 710.90 L448.97 710.72 L449.56 710.57 L450.15 710.46 L450.74 710.40 L451.33 710.38 L451.92 710.41 L452.50 710.49 L453.08 710.62 L453.65 710.79 L454.21 711.01 L454.76 711.26 L455.31 711.54 L455.84 711.86 L456.36 712.20 L456.87 712.57 L457.37 712.95 L457.85 713.35 L458.31 713.76 L458.76 714.18 L459.20 714.62 L459.62 715.06 L460.02 715.51 L460.42 715.97 L460.80 716.43 L461.17 716.90 L461.54 717.38 L461.89 717.87 L462.23 718.36 L462.57 718.85 L462.90 719.35 L463.23 719.85 L463.55 720.36 L463.86 720.87 L464.17 721.38 L464.48 721.89 L464.79 722.41 L465.09 722.92 L465.40 723.44 L465.70 723.96 L466.00 724.48 L466.30 725.00 L466.59 725.52 L466.89 726.05 L467.18 726.57 L467.48 727.10 L467.77 727.62 L468.06 728.15 L468.34 728.68 L468.63 729.20 L468.92 729.73 L469.20 730.26 L469.48 730.79 L469.77 731.33 L470.05 731.86 L470.33 732.39 L470.61 732.92 L470.89 733.45 L471.16 733.99 L471.44 734.52 L471.72 735.05 L471.99 735.59 L472.27 736.12 L472.54 736.66 L472.82 737.19 L473.09 737.73 L473.36 738.26 L473.63 738.80 L473.90 739.34 L474.17 739.87 L474.44 740.41 L474.70 740.95 L474.97 741.49 L475.23 742.03 L475.50 742.57 L475.76 743.11 L476.02 743.65 L476.28 744.19 L476.54 744.73 L476.80 745.27 L477.06 745.82 L477.31 746.36 L477.57 746.90 L477.82 747.45 L478.08 747.99 L478.33 748.54 L478.58 749.08 L478.83 749.63 L479.08 750.17 L479.33 750.72 L479.58 751.27 L479.82 751.81 L480.07 752.36 L480.32 752.91 L480.56 753.46 L480.81 754.01 L481.05 754.56 L481.30 755.11 L481.54 755.66 L481.78 756.20 L482.02 756.75 L482.27 757.30 L482.51 757.86 L482.75 758.41 L482.99 758.96 L483.23 759.51 L483.47 760.06 L483.71 760.61 L483.95 761.16 L484.19 761.71 L484.43 762.26 L484.67 762.81 L484.91 763.36 L485.15 763.91 L485.39 764.46 L485.64 765.01 L485.88 765.56 L486.12 766.11 L486.37 766.66 L486.61 767.21 L486.86 767.76 L487.10 768.30 L487.35 768.85 L487.60 769.40 L487.85 769.94 L488.10 770.49 L488.36 771.03 L488.61 771.58 L488.87 772.12 L489.13 772.66 L489.39 773.20 L489.65 773.75 L489.91 774.29 L490.18 774.82 L490.44 775.36 L490.71 775.90 L490.99 776.44 L491.26 776.97 L491.53 777.50 L491.81 778.04 L492.09 778.57 L492.37 779.10 L492.66 779.63 L492.94 780.16 L493.23 780.69 L493.52 781.22 L493.81 781.74 L494.10 782.27 L494.39 782.79 L494.69 783.31 L494.99 783.84 L495.29 784.36 L495.59 784.88 L495.90 785.39 L496.20 785.91 L496.51 786.43 L496.82 786.94 L497.13 787.46 L497.44 787.97 L497.76 788.48 L498.07 788.99 L498.39 789.50 L498.71 790.01 L499.04 790.51 L499.36 791.02 L499.69 791.52 L500.02 792.03 L500.35 792.53 L500.68 793.03 L501.01 793.53 L501.35 794.02 L501.69 794.52 L502.03 795.02 L502.37 795.51 L502.72 796.00 L503.07 796.49 L503.42 796.98 L503.77 797.47 L504.12 797.95 L504.48 798.44 L504.84 798.92 L505.20 799.40 L505.57 799.88 L505.94 800.36 L506.31 800.83 L506.68 801.30 L507.06 801.77 L507.44 802.23 L507.83 802.69 L508.22 803.15 L508.62 803.60 L509.02 804.05 L509.42 804.50 L509.83 804.93 L510.24 805.37 L510.66 805.80 L511.09 806.22 L511.52 806.64 L511.95 807.05 L512.39 807.46 L512.83 807.87 L513.28 808.27 L513.73 808.67 L514.18 809.07 L514.63 809.46 L515.09 809.86 L515.54 810.25 L516.00 810.64 L516.46 811.03 L516.91 811.43 L517.37 811.82 L517.83 812.21 L518.29 812.60 L518.74 812.99 L519.21 813.38 L519.67 813.76 L520.13 814.14 L520.60 814.52 L521.07 814.89 L521.55 815.25 L522.03 815.61 L522.51 815.97 L523.00 816.32 L523.50 816.65 L524.00 816.99 L524.50 817.31 L525.01 817.63 L525.52 817.95 L526.04 818.26 L526.55 818.56 L527.07 818.87 L527.59 819.17 L528.11 819.48" stroke="#ff0000" stroke-width="1.3"/>
</g>
<polygon points="408.47,777.43 410.37,777.88 411.37,777.13 412.37,777.88 414.27,777.43 413.62,779.43 414.27,781.43 412.37,780.98 411.37,781.73 410.37,780.98 408.47,781.43 409.12,779.43" fill="#ff00ff"/>
<polygon points="415.81,759.08 417.71,759.53 418.71,758.78 419.71,759.53 421.61,759.08 420.96,761.08 421.61,763.08 419.71,762.63 418.71,763.38 417.71,762.63 415.81,763.08 416.46,761.08" fill="#ff00ff"/>
<polygon points="423.15,734.08 425.05,734.53 426.05,733.78 427.05,734.53 428.95,734.08 428.30,736.08 428.95,738.08 427.05,737.63 426.05,738.38 425.05,737.63 423.15,738.08 423.80,736.08" fill="#ff00ff"/>
<polygon points="430.49,721.93 432.39,722.38 433.39,721.63 434.39,722.38 436.29,721.93 435.64,723.93 436.29,725.93 434.39,725.48 433.39,726.23 432.39,725.48 430.49,725.93 431.14,723.93" fill="#ff00ff"/>
<polygon points="437.37,707.25 439.27,707.70 440.27,706.95 441.27,707.70 443.17,707.25 442.52,709.25 443.17,711.25 441.27,710.80 440.27,711.55 439.27,710.80 437.37,711.25 438.02,709.25" fill="#ff00ff"/>
<polygon points="444.48,702.66 446.38,703.11 447.38,702.36 448.38,703.11 450.28,702.66 449.63,704.66 450.28,706.66 448.38,706.21 447.38,706.96 446.38,706.21 444.48,706.66 445.13,704.66" fill="#ff00ff"/>
<polygon points="451.36,701.06 453.26,701.51 454.26,700.76 455.26,701.51 457.16,701.06 456.51,703.06 457.16,705.06 455.26,704.61 454.26,705.36 453.26,704.61 451.36,705.06 452.01,703.06" fill="#ff00ff"/>
<polygon points="458.70,707.48 460.60,707.93 461.60,707.18 462.60,707.93 464.50,707.48 463.85,709.48 464.50,711.48 462.60,711.03 461.60,711.78 460.60,711.03 458.70,711.48 459.35,709.48" fill="#ff00ff"/>
<polygon points="466.04,720.32 467.94,720.77 468.94,720.02 469.94,720.77 471.84,720.32 471.19,722.32 471.84,724.32 469.94,723.87 468.94,724.62 467.94,723.87 466.04,724.32 466.69,722.32" fill="#ff00ff"/>
<polygon points="472.92,728.12 474.82,728.57 475.82,727.82 476.82,728.57 478.72,728.12 478.07,730.12 478.72,732.12 476.82,731.67 475.82,732.42 474.82,731.67 472.92,732.12 473.57,730.12" fill="#ff00ff"/>
<polygon points="480.26,737.75 482.16,738.20 483.16,737.45 484.16,738.20 486.06,737.75 485.41,739.75 486.06,741.75 484.16,741.30 483.16,742.05 482.16,741.30 480.26,741.75 480.91,739.75" fill="#ff00ff"/>
<polygon points="487.37,754.27 489.27,754.72 490.27,753.97 491.27,754.72 493.17,754.27 492.52,756.27 493.17,758.27 491.27,757.82 490.27,758.57 489.27,757.82 487.37,758.27 488.02,756.27" fill="#ff00ff"/>
<polygon points="494.48,765.28 496.38,765.73 497.38,764.98 498.38,765.73 500.28,765.28 499.63,767.28 500.28,769.28 498.38,768.83 497.38,769.58 496.38,768.83 494.48,769.28 495.13,767.28" fill="#ff00ff"/>
<polygon points="501.59,774.22 503.49,774.67 504.49,773.92 505.49,774.67 507.39,774.22 506.74,776.22 507.39,778.22 505.49,777.77 504.49,778.52 503.49,777.77 501.59,778.22 502.24,776.22" fill="#ff00ff"/>
<polygon points="508.70,776.51 510.60,776.96 511.60,776.21 512.60,776.96 514.50,776.51 513.85,778.51 514.50,780.51 512.60,780.06 511.60,780.81 510.60,780.06 508.70,780.51 509.35,778.51" fill="#ff00ff"/>
<polygon points="515.81,775.60 517.71,776.05 518.71,775.30 519.71,776.05 521.61,775.60 520.96,777.60 521.61,779.60 519.71,779.15 518.71,779.90 517.71,779.15 515.81,779.60 516.46,777.60" fill="#ff00ff"/>
<polygon points="522.92,780.64 524.82,781.09 525.82,780.34 526.82,781.09 528.72,780.64 528.07,782.64 528.72,784.64 526.82,784.19 525.82,784.94 524.82,784.19 522.92,784.64 523.57,782.64" fill="#ff00ff"/>
<polygon points="530.03,775.14 531.93,775.59 532.93,774.84 533.93,775.59 535.83,775.14 535.18,777.14 535.83,779.14 533.93,778.69 532.93,779.44 531.93,778.69 530.03,779.14 530.68,777.14" fill="#ff00ff"/>
<polygon points="537.14,774.45 539.04,774.90 540.04,774.15 541.04,774.90 542.94,774.45 542.29,776.45 542.94,778.45 541.04,778.00 540.04,778.75 539.04,778.00 537.14,778.45 537.79,776.45" fill="#ff00ff"/>
<polygon points="544.25,777.43 546.15,777.88 547.15,777.13 548.15,777.88 550.05,777.43 549.40,779.43 550.05,781.43 548.15,780.98 547.15,781.73 546.15,780.98 544.25,781.43 544.90,779.43" fill="#ff00ff"/>
<path d="M404.49 822.00 L404.77 821.38 L405.06 820.77 L405.34 820.15 L405.63 819.53 L405.92 818.92 L405.95 818.85 M407.64 815.24 L407.65 815.22 L407.94 814.60 L408.17 814.13 M409.84 810.51 L409.94 810.28 L410.21 809.65 L410.47 809.02 L410.72 808.39 L410.97 807.76 L411.14 807.30 M412.42 803.56 L412.52 803.26 L412.72 802.61 L412.78 802.41 M413.89 798.63 L414.06 798.03 L414.24 797.37 L414.42 796.72 L414.61 796.06 L414.79 795.41 L414.82 795.32 M415.90 791.54 L415.92 791.48 L416.10 790.83 L416.23 790.37 M417.32 786.59 L417.42 786.25 L417.60 785.60 L417.79 784.94 L417.97 784.29 L418.16 783.63 L418.26 783.29 M419.31 779.50 L419.44 779.04 L419.62 778.39 L419.63 778.33 M420.67 774.54 L420.69 774.45 L420.87 773.79 L421.05 773.14 L421.23 772.48 L421.41 771.82 L421.57 771.23 M422.59 767.43 L422.65 767.22 L422.83 766.57 L422.91 766.26 M423.92 762.46 L424.05 761.97 L424.23 761.31 L424.40 760.65 L424.57 759.99 L424.75 759.33 L424.79 759.15 M425.78 755.35 L425.94 754.72 L426.08 754.17 M427.07 750.37 L427.13 750.11 L427.30 749.45 L427.48 748.80 L427.65 748.14 L427.82 747.48 L427.94 747.06 M428.97 743.26 L429.08 742.88 L429.26 742.23 L429.30 742.09 M430.40 738.31 L430.40 738.31 L430.60 737.66 L430.79 737.01 L430.99 736.36 L431.19 735.71 L431.39 735.06 L431.40 735.03 M432.61 731.27 L432.64 731.17 L432.85 730.52 L432.99 730.12 M434.28 726.38 L434.41 726.02 L434.64 725.38 L434.88 724.74 L435.13 724.11 L435.37 723.47 L435.50 723.15 M437.07 719.50 L437.26 719.09 L437.55 718.48 L437.59 718.39 M439.53 714.87 L439.88 714.32 L440.26 713.75 L440.65 713.19 L441.05 712.64 L441.47 712.10 L441.57 711.97 M444.38 708.94 L444.71 708.63 L445.22 708.19 L445.35 708.09 M448.80 705.60 L449.11 705.40 L449.71 705.04 L450.33 704.68 L450.96 704.36 L451.60 704.06 L452.14 703.85 M456.48 703.91 L456.79 704.02 L457.43 704.30 L457.71 704.45 M461.45 706.60 L461.67 706.74 L462.22 707.13 L462.77 707.52 L463.29 707.94 L463.80 708.37 L464.29 708.84 L464.34 708.88 M466.94 712.05 L467.29 712.55 L467.65 713.08 M469.80 716.51 L469.85 716.59 L470.19 717.18 L470.52 717.77 L470.84 718.37 L471.16 718.97 L471.48 719.57 L471.48 719.58 M473.20 723.18 L473.23 723.25 L473.51 723.87 L473.69 724.30 M475.21 727.97 L475.33 728.28 L475.58 728.91 L475.82 729.55 L476.07 730.18 L476.31 730.82 L476.46 731.19 M477.85 734.90 L477.99 735.27 L478.23 735.91 L478.27 736.04 M479.64 739.75 L479.88 740.38 L480.11 741.02 L480.35 741.66 L480.58 742.29 L480.82 742.93 L480.84 742.99 M482.23 746.70 L482.25 746.75 L482.49 747.39 L482.66 747.84 M484.10 751.53 L484.21 751.83 L484.46 752.47 L484.72 753.10 L484.97 753.73 L485.22 754.36 L485.38 754.75 M486.88 758.42 L487.02 758.77 L487.28 759.40 L487.34 759.55 M488.89 763.21 L489.13 763.79 L489.40 764.41 L489.67 765.04 L489.95 765.66 L490.22 766.28 L490.27 766.39 M491.90 770.02 L492.18 770.62 L492.42 771.14 M494.12 774.74 L494.21 774.93 L494.51 775.54 L494.81 776.15 L495.11 776.76 L495.41 777.38 L495.65 777.87 M497.39 781.47 L497.48 781.66 L497.77 782.28 L497.91 782.58 M499.56 786.21 L499.75 786.62 L500.04 787.24 L500.33 787.85 L500.62 788.46 L500.92 789.07 L501.06 789.35 M502.99 792.86 L503.21 793.23 L503.57 793.81 L503.64 793.92 M505.89 797.30 L506.22 797.77 L506.61 798.33 L507.01 798.88 L507.41 799.43 L507.82 799.98 L507.97 800.18 M510.42 803.44 L510.71 803.81 L511.13 804.35 L511.19 804.44 M513.80 807.61 L514.17 808.04 L514.63 808.54 L515.09 809.04 L515.55 809.54 L516.03 810.02 L516.26 810.25 M519.38 813.05 L519.55 813.19 L520.09 813.60 L520.41 813.85 M523.90 816.30 L523.98 816.35 L524.55 816.73 L525.12 817.10 L525.70 817.48 L526.27 817.85 L526.85 818.22" stroke="#111111" stroke-width="1.3" fill="none" clip-path="url(#c4)"/>
<rect x="376.30" y="641.70" width="190.10" height="190.90" fill="none" stroke="#2b2b2b" stroke-width="1.5"/>
<path d="M514.74 832.60 L518.42 832.60 M522.68 832.60 L526.36 832.60" stroke="#0000ff" stroke-width="1.3" fill="none" opacity="0.28"/>
<text x="371.65" y="847.20" font-size="11.20" fill="#222222" text-anchor="start" textLength="9.30" lengthAdjust="spacingAndGlyphs">0</text>
<text x="409.27" y="847.20" font-size="11.20" fill="#222222" text-anchor="start" textLength="29.10" lengthAdjust="spacingAndGlyphs">100</text>
<text x="456.80" y="847.20" font-size="11.20" fill="#222222" text-anchor="start" textLength="29.10" lengthAdjust="spacingAndGlyphs">200</text>
<text x="504.32" y="847.20" font-size="11.20" fill="#222222" text-anchor="start" textLength="29.10" lengthAdjust="spacingAndGlyphs">300</text>
<text x="551.85" y="847.20" font-size="11.20" fill="#222222" text-anchor="start" textLength="29.10" lengthAdjust="spacingAndGlyphs">400</text>
<text x="357.20" y="836.70" font-size="11.20" fill="#222222" text-anchor="start" textLength="9.30" lengthAdjust="spacingAndGlyphs">0</text>
<text x="347.30" y="817.61" font-size="11.20" fill="#222222" text-anchor="start" textLength="19.20" lengthAdjust="spacingAndGlyphs">10</text>
<text x="347.30" y="798.52" font-size="11.20" fill="#222222" text-anchor="start" textLength="19.20" lengthAdjust="spacingAndGlyphs">20</text>
<text x="347.30" y="779.43" font-size="11.20" fill="#222222" text-anchor="start" textLength="19.20" lengthAdjust="spacingAndGlyphs">30</text>
<text x="347.30" y="760.34" font-size="11.20" fill="#222222" text-anchor="start" textLength="19.20" lengthAdjust="spacingAndGlyphs">40</text>
<text x="347.30" y="741.25" font-size="11.20" fill="#222222" text-anchor="start" textLength="19.20" lengthAdjust="spacingAndGlyphs">50</text>
<text x="347.30" y="722.16" font-size="11.20" fill="#222222" text-anchor="start" textLength="19.20" lengthAdjust="spacingAndGlyphs">60</text>
<text x="347.30" y="703.07" font-size="11.20" fill="#222222" text-anchor="start" textLength="19.20" lengthAdjust="spacingAndGlyphs">70</text>
<text x="347.30" y="683.98" font-size="11.20" fill="#222222" text-anchor="start" textLength="19.20" lengthAdjust="spacingAndGlyphs">80</text>
<text x="347.30" y="664.89" font-size="11.20" fill="#222222" text-anchor="start" textLength="19.20" lengthAdjust="spacingAndGlyphs">90</text>
<text x="337.40" y="645.80" font-size="11.20" fill="#222222" text-anchor="start" textLength="29.10" lengthAdjust="spacingAndGlyphs">100</text>
<text x="441.45" y="865.90" font-size="11.20" fill="#222222" text-anchor="start" textLength="60.00" lengthAdjust="spacingAndGlyphs"><tspan font-style="italic">&#969;</tspan> [MeV]</text>
<g transform="translate(332.40 814.10) rotate(-90) scale(1 1.520)" fill="#222222">
<text x="0.00" y="0.00" font-size="10.90" textLength="6.00" lengthAdjust="spacingAndGlyphs">d</text>
<text x="9.30" y="0.00" font-size="10.90" textLength="9.60" lengthAdjust="spacingAndGlyphs">&#963;</text>
<text x="26.00" y="0.00" font-size="10.90" textLength="33.90" lengthAdjust="spacingAndGlyphs">d&#969;d&#937;</text>
<text x="67.10" y="-0.80" font-size="10.90" textLength="5.00" lengthAdjust="spacingAndGlyphs">[</text>
<text x="71.60" y="0.00" font-size="10.90" textLength="17.00" lengthAdjust="spacingAndGlyphs">nb</text>
<text x="91.70" y="0.00" font-size="10.90" textLength="12.40" lengthAdjust="spacingAndGlyphs">sr</text>
<text x="115.50" y="0.00" font-size="10.90" textLength="27.80" lengthAdjust="spacingAndGlyphs">MeV</text>
<text x="150.40" y="-0.80" font-size="10.90" textLength="4.80" lengthAdjust="spacingAndGlyphs">]</text>
</g>
<g transform="translate(323.10 814.10) rotate(-90)" fill="#222222">
<path d="M19.9 12.6 L27.7 -4.6" stroke="#222222" stroke-width="1.05" fill="none"/>
<text x="5.80" y="0" font-size="7.2" textLength="5.80" lengthAdjust="spacingAndGlyphs" stroke="#222222" stroke-width="0.35">3</text>
<text x="105.60" y="0" font-size="7.2" textLength="7.30" lengthAdjust="spacingAndGlyphs" stroke="#222222" stroke-width="0.35">&#8722;1</text>
<text x="144.20" y="0" font-size="7.2" textLength="5.80" lengthAdjust="spacingAndGlyphs" stroke="#222222" stroke-width="0.35">&#8722;1</text>
</g>
</g>
<text x="201.2" y="407.2" font-size="11.0" fill="#ff00ff" textLength="53.6" lengthAdjust="spacingAndGlyphs"><tspan font-size="6.2" dy="-5.0" stroke="#ff00ff" stroke-width="0.3">12</tspan><tspan dy="5.0">C(e,e)</tspan></text>
<text x="200.00" y="426.50" font-size="11.40" fill="#0000ff" text-anchor="start" textLength="79.60" lengthAdjust="spacingAndGlyphs">E=620MeV</text>
<text x="212.80" y="445.10" font-size="11.40" fill="#0000ff" text-anchor="start" textLength="47.50" lengthAdjust="spacingAndGlyphs">&#920;=36<tspan font-size="8.2" dy="-5.6">o</tspan></text>
<path d="M206.4 464.1 H232.0" stroke="#ff0000" stroke-width="1.15"/>
<text x="238.20" y="464.30" font-size="11.00" fill="#ff0000" text-anchor="start" textLength="44.80" lengthAdjust="spacingAndGlyphs">RDWIA</text>
<path d="M206.4 483.2 H210.4 M212.2 483.2 H216.5 M218.1 483.2 H222.2 M223.9 483.2 H228.1" stroke="#0000ff" stroke-width="1.15" fill="none"/>
<text x="238.20" y="483.30" font-size="11.00" fill="#0000ff" text-anchor="start" textLength="40.00" lengthAdjust="spacingAndGlyphs">RFGM</text>
<path d="M206.4 502.1 H210.8 M216.7 502.1 H218.1 M223.2 502.1 H227.9" stroke="#111111" stroke-width="1.15" fill="none"/>
<text x="238.20" y="502.10" font-size="11.00" fill="#111111" text-anchor="start" textLength="33.80" lengthAdjust="spacingAndGlyphs">PWIA</text>
<text x="467.50" y="426.50" font-size="11.40" fill="#0000ff" text-anchor="start" textLength="79.80" lengthAdjust="spacingAndGlyphs">E=680MeV</text>
<text x="489.90" y="445.30" font-size="11.40" fill="#0000ff" text-anchor="start" textLength="47.90" lengthAdjust="spacingAndGlyphs">&#920;=36<tspan font-size="8.2" dy="-5.6">o</tspan></text>
<text x="196.70" y="670.70" font-size="11.40" fill="#0000ff" text-anchor="start" textLength="79.80" lengthAdjust="spacingAndGlyphs">E=500MeV</text>
<text x="226.50" y="689.60" font-size="11.40" fill="#0000ff" text-anchor="start" textLength="48.50" lengthAdjust="spacingAndGlyphs">&#920;=60<tspan font-size="8.2" dy="-5.6">o</tspan></text>
<text x="461.50" y="670.80" font-size="11.40" fill="#0000ff" text-anchor="start" textLength="89.40" lengthAdjust="spacingAndGlyphs">E=2020MeV</text>
<text x="475.60" y="689.50" font-size="11.40" fill="#0000ff" text-anchor="start" textLength="48.90" lengthAdjust="spacingAndGlyphs">&#920;=15<tspan font-size="8.2" dy="-5.6">o</tspan></text>
</svg>
</body></html>
